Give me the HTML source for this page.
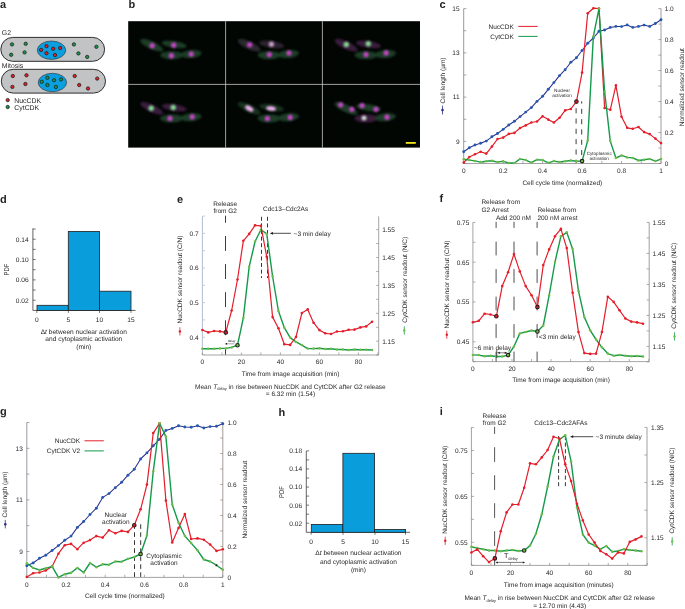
<!DOCTYPE html>
<html><head><meta charset="utf-8"><style>
html,body{margin:0;padding:0;background:#fff;width:685px;height:609px;overflow:hidden}
svg{display:block}
text{font-family:"Liberation Sans",sans-serif;fill:#231f20;text-rendering:geometricPrecision}
svg{will-change:transform}
</style></head><body>
<svg width="685" height="609" viewBox="0 0 685 609">
<text x="0" y="7.8" font-size="11" font-weight="bold">a</text>
<text x="1.8" y="34.57" font-size="6.9">G2</text>
<text x="1.8" y="67.67" font-size="6.9">Mitosis</text>
<rect x="0.8" y="37.4" width="103.8" height="23.9" rx="11.95" fill="#c1c3c5" stroke="#2e2e2e" stroke-width="1.0"/>
<ellipse cx="51.5" cy="50.2" rx="14.2" ry="9.2" fill="#0b9fe0" stroke="#2a2a2a" stroke-width="0.6"/>
<rect x="1.3" y="69.3" width="104.2" height="23.8" rx="11.90" fill="#c1c3c5" stroke="#2e2e2e" stroke-width="1.0"/>
<ellipse cx="52.4" cy="82.5" rx="14.2" ry="9.2" fill="#0b9fe0" stroke="#2a2a2a" stroke-width="0.6"/>
<circle cx="12" cy="44.4" r="1.68" fill="#17954a" stroke="#1e1e1e" stroke-width="0.75"/>
<circle cx="25.7" cy="43.8" r="1.68" fill="#17954a" stroke="#1e1e1e" stroke-width="0.75"/>
<circle cx="11.2" cy="54.8" r="1.68" fill="#17954a" stroke="#1e1e1e" stroke-width="0.75"/>
<circle cx="24.6" cy="52.4" r="1.68" fill="#17954a" stroke="#1e1e1e" stroke-width="0.75"/>
<circle cx="73.9" cy="44.4" r="1.68" fill="#17954a" stroke="#1e1e1e" stroke-width="0.75"/>
<circle cx="96.4" cy="46.8" r="1.68" fill="#17954a" stroke="#1e1e1e" stroke-width="0.75"/>
<circle cx="78.4" cy="53.4" r="1.68" fill="#17954a" stroke="#1e1e1e" stroke-width="0.75"/>
<circle cx="87.2" cy="56.9" r="1.68" fill="#17954a" stroke="#1e1e1e" stroke-width="0.75"/>
<circle cx="46.5" cy="46.1" r="1.68" fill="#e31e26" stroke="#1e1e1e" stroke-width="0.75"/>
<circle cx="41.1" cy="49.9" r="1.68" fill="#e31e26" stroke="#1e1e1e" stroke-width="0.75"/>
<circle cx="53.2" cy="48.7" r="1.68" fill="#e31e26" stroke="#1e1e1e" stroke-width="0.75"/>
<circle cx="60.2" cy="48" r="1.68" fill="#e31e26" stroke="#1e1e1e" stroke-width="0.75"/>
<circle cx="46.5" cy="53.2" r="1.68" fill="#e31e26" stroke="#1e1e1e" stroke-width="0.75"/>
<circle cx="55" cy="55.1" r="1.68" fill="#e31e26" stroke="#1e1e1e" stroke-width="0.75"/>
<circle cx="12.8" cy="76" r="1.68" fill="#e31e26" stroke="#1e1e1e" stroke-width="0.75"/>
<circle cx="26.5" cy="75.3" r="1.68" fill="#e31e26" stroke="#1e1e1e" stroke-width="0.75"/>
<circle cx="12.4" cy="86.9" r="1.68" fill="#e31e26" stroke="#1e1e1e" stroke-width="0.75"/>
<circle cx="25.4" cy="84" r="1.68" fill="#e31e26" stroke="#1e1e1e" stroke-width="0.75"/>
<circle cx="74.7" cy="76" r="1.68" fill="#e31e26" stroke="#1e1e1e" stroke-width="0.75"/>
<circle cx="97.2" cy="78.6" r="1.68" fill="#e31e26" stroke="#1e1e1e" stroke-width="0.75"/>
<circle cx="79.2" cy="85" r="1.68" fill="#e31e26" stroke="#1e1e1e" stroke-width="0.75"/>
<circle cx="88" cy="88.5" r="1.68" fill="#e31e26" stroke="#1e1e1e" stroke-width="0.75"/>
<circle cx="47.4" cy="77.8" r="1.68" fill="#17954a" stroke="#1e1e1e" stroke-width="0.75"/>
<circle cx="41.8" cy="81.8" r="1.68" fill="#17954a" stroke="#1e1e1e" stroke-width="0.75"/>
<circle cx="54.1" cy="80.2" r="1.68" fill="#17954a" stroke="#1e1e1e" stroke-width="0.75"/>
<circle cx="61" cy="79.4" r="1.68" fill="#17954a" stroke="#1e1e1e" stroke-width="0.75"/>
<circle cx="47.4" cy="85" r="1.68" fill="#17954a" stroke="#1e1e1e" stroke-width="0.75"/>
<circle cx="55.9" cy="86.9" r="1.68" fill="#17954a" stroke="#1e1e1e" stroke-width="0.75"/>
<circle cx="7.7" cy="100.1" r="1.68" fill="#e31e26" stroke="#1e1e1e" stroke-width="0.75"/>
<circle cx="7.7" cy="107" r="1.68" fill="#17954a" stroke="#1e1e1e" stroke-width="0.75"/>
<text x="14.3" y="102.77" font-size="6.9">NucCDK</text>
<text x="14.3" y="109.67" font-size="6.9">CytCDK</text>
<text x="128.5" y="7.9" font-size="11" font-weight="bold">b</text>
<rect x="128.2" y="21.2" width="291.8" height="126.4" fill="#020603"/>
<defs><filter id="bl1" x="-50%" y="-50%" width="200%" height="200%"><feGaussianBlur stdDeviation="1.3"/></filter><filter id="bl2" x="-50%" y="-50%" width="200%" height="200%"><feGaussianBlur stdDeviation="0.95"/></filter><clipPath id="bclip"><rect x="128.2" y="21.2" width="291.8" height="126.4"/></clipPath></defs>
<g clip-path="url(#bclip)">
<g transform="translate(128.2,21.2)">
<g filter="url(#bl1)">
<ellipse cx="23.5" cy="24.0" rx="12.5" ry="3.8" transform="rotate(25 23.5 24.0)" fill="#1c3d26"/>
<ellipse cx="46.0" cy="23.2" rx="12.5" ry="3.5" transform="rotate(8 46.0 23.2)" fill="#1c3d26"/>
<ellipse cx="43.5" cy="34.0" rx="11.5" ry="4.0" transform="rotate(0 43.5 34.0)" fill="#1c3d26"/>
<ellipse cx="63.0" cy="32.8" rx="10.5" ry="4.0" transform="rotate(-5 63.0 32.8)" fill="#1c3d26"/>
</g><g filter="url(#bl2)">
<ellipse cx="24" cy="24.5" rx="2.6" ry="2.6" transform="rotate(0 24 24.5)" fill="#c846c8"/>
<ellipse cx="45.5" cy="24" rx="2.6" ry="2.6" transform="rotate(0 45.5 24)" fill="#c846c8"/>
<ellipse cx="43.2" cy="34.5" rx="2.6" ry="2.6" transform="rotate(0 43.2 34.5)" fill="#c846c8"/>
<ellipse cx="63" cy="32.9" rx="2.6" ry="2.6" transform="rotate(0 63 32.9)" fill="#c846c8"/>
</g></g>
<g transform="translate(225.6,21.2)">
<g filter="url(#bl1)">
<ellipse cx="23.5" cy="24.0" rx="12.5" ry="3.8" transform="rotate(25 23.5 24.0)" fill="#2a2a2f"/>
<ellipse cx="46.0" cy="23.2" rx="12.5" ry="3.5" transform="rotate(8 46.0 23.2)" fill="#2e2430"/>
<ellipse cx="43.5" cy="34.0" rx="11.5" ry="4.0" transform="rotate(0 43.5 34.0)" fill="#1c3d26"/>
<ellipse cx="63.0" cy="32.8" rx="10.5" ry="4.0" transform="rotate(-5 63.0 32.8)" fill="#1c3d26"/>
</g><g filter="url(#bl2)">
<ellipse cx="24.1" cy="23.6" rx="2.6" ry="2.6" transform="rotate(0 24.1 23.6)" fill="#c846c8"/>
<ellipse cx="45.8" cy="23.0" rx="2.6" ry="2.6" transform="rotate(0 45.8 23.0)" fill="#c7a0c8"/>
<ellipse cx="43.7" cy="33.4" rx="2.6" ry="2.6" transform="rotate(0 43.7 33.4)" fill="#c846c8"/>
<ellipse cx="63.4" cy="31.8" rx="2.6" ry="2.6" transform="rotate(0 63.4 31.8)" fill="#c846c8"/>
</g></g>
<g transform="translate(322.5,21.2)">
<g filter="url(#bl1)">
<ellipse cx="23.5" cy="24.0" rx="12.5" ry="3.8" transform="rotate(25 23.5 24.0)" fill="#3a1a3e"/>
<ellipse cx="46.0" cy="23.2" rx="12.5" ry="3.5" transform="rotate(8 46.0 23.2)" fill="#3a1a3e"/>
<ellipse cx="43.5" cy="34.0" rx="11.5" ry="4.0" transform="rotate(0 43.5 34.0)" fill="#1c3d26"/>
<ellipse cx="63.0" cy="32.8" rx="10.5" ry="4.0" transform="rotate(-5 63.0 32.8)" fill="#1c3d26"/>
</g><g filter="url(#bl2)">
<ellipse cx="23.8" cy="23.3" rx="2.7" ry="2.7" transform="rotate(0 23.8 23.3)" fill="#82d890"/>
<ellipse cx="45.8" cy="22.5" rx="2.7" ry="2.7" transform="rotate(0 45.8 22.5)" fill="#82d890"/>
<ellipse cx="43.5" cy="33.4" rx="2.6" ry="2.6" transform="rotate(0 43.5 33.4)" fill="#c846c8"/>
<ellipse cx="63.6" cy="31.7" rx="2.6" ry="2.6" transform="rotate(0 63.6 31.7)" fill="#c846c8"/>
</g></g>
<g transform="translate(128.2,84.4)">
<g filter="url(#bl1)">
<ellipse cx="23.5" cy="24.0" rx="12.5" ry="3.8" transform="rotate(25 23.5 24.0)" fill="#3a1a3e"/>
<ellipse cx="46.0" cy="23.2" rx="12.5" ry="3.5" transform="rotate(8 46.0 23.2)" fill="#3a1a3e"/>
<ellipse cx="43.5" cy="34.0" rx="11.5" ry="4.0" transform="rotate(0 43.5 34.0)" fill="#1c3d26"/>
<ellipse cx="63.0" cy="32.8" rx="10.5" ry="4.0" transform="rotate(-5 63.0 32.8)" fill="#1c3d26"/>
</g><g filter="url(#bl2)">
<ellipse cx="23" cy="23.9" rx="2.7" ry="2.7" transform="rotate(0 23 23.9)" fill="#82d890"/>
<ellipse cx="45" cy="23.1" rx="2.7" ry="2.7" transform="rotate(0 45 23.1)" fill="#82d890"/>
<ellipse cx="41.8" cy="34" rx="2.6" ry="2.6" transform="rotate(0 41.8 34)" fill="#c846c8"/>
<ellipse cx="64" cy="32.4" rx="2.6" ry="2.6" transform="rotate(0 64 32.4)" fill="#c846c8"/>
</g></g>
<g transform="translate(225.6,84.4)">
<g filter="url(#bl1)">
<ellipse cx="23.5" cy="24.0" rx="12.5" ry="3.8" transform="rotate(25 23.5 24.0)" fill="#16301e"/>
<ellipse cx="46.0" cy="23.2" rx="12.5" ry="3.5" transform="rotate(8 46.0 23.2)" fill="#16301e"/>
<ellipse cx="43.5" cy="34.0" rx="11.5" ry="4.0" transform="rotate(0 43.5 34.0)" fill="#1c3d26"/>
<ellipse cx="63.0" cy="32.8" rx="10.5" ry="4.0" transform="rotate(-5 63.0 32.8)" fill="#1c3d26"/>
</g><g filter="url(#bl2)">
<ellipse cx="23.7" cy="24.1" rx="4.6" ry="2.3" transform="rotate(30 23.7 24.1)" fill="#f0b0f0"/>
<ellipse cx="45.4" cy="24.1" rx="5.0" ry="2.2" transform="rotate(8 45.4 24.1)" fill="#f0b0f0"/>
<ellipse cx="41.8" cy="34.1" rx="2.6" ry="2.6" transform="rotate(0 41.8 34.1)" fill="#c846c8"/>
<ellipse cx="64.6" cy="33" rx="2.6" ry="2.6" transform="rotate(0 64.6 33)" fill="#c846c8"/>
</g></g>
<g transform="translate(322.5,84.4)">
<g filter="url(#bl1)">
<ellipse cx="23.5" cy="24.0" rx="12.5" ry="3.8" transform="rotate(25 23.5 24.0)" fill="#1c3d26"/>
<ellipse cx="46.0" cy="23.2" rx="12.5" ry="3.5" transform="rotate(8 46.0 23.2)" fill="#1c3d26"/>
<ellipse cx="43.5" cy="34.0" rx="11.5" ry="4.0" transform="rotate(0 43.5 34.0)" fill="#3a1a3e"/>
<ellipse cx="63.0" cy="32.8" rx="10.5" ry="4.0" transform="rotate(-5 63.0 32.8)" fill="#1c3d26"/>
</g><g filter="url(#bl2)">
<ellipse cx="18.2" cy="20.4" rx="2.6" ry="2.6" transform="rotate(0 18.2 20.4)" fill="#c846c8"/>
<ellipse cx="29.4" cy="24.9" rx="2.6" ry="2.6" transform="rotate(0 29.4 24.9)" fill="#c846c8"/>
<ellipse cx="39.5" cy="21.2" rx="2.6" ry="2.6" transform="rotate(0 39.5 21.2)" fill="#c846c8"/>
<ellipse cx="53.5" cy="24.9" rx="2.6" ry="2.6" transform="rotate(0 53.5 24.9)" fill="#c846c8"/>
<ellipse cx="41.5" cy="33.7" rx="2.5" ry="2.5" transform="rotate(0 41.5 33.7)" fill="#d0dcd0"/>
<ellipse cx="64.5" cy="32.8" rx="2.6" ry="2.6" transform="rotate(0 64.5 32.8)" fill="#c846c8"/>
</g></g>
</g>
<line x1="225.6" y1="21.2" x2="225.6" y2="147.6" stroke="#c8c8c8" stroke-width="0.8"/>
<line x1="322.4" y1="21.2" x2="322.4" y2="147.6" stroke="#c8c8c8" stroke-width="0.8"/>
<line x1="128.2" y1="84.4" x2="420" y2="84.4" stroke="#c8c8c8" stroke-width="0.8"/>
<rect x="405.8" y="142" width="10" height="1.8" fill="#f5e51b"/>
<text x="439.5" y="7.8" font-size="11" font-weight="bold">c</text>
<line x1="463.7" y1="8.6" x2="463.7" y2="163.5" stroke="#7a7f86" stroke-width="0.8"/>
<line x1="661" y1="8.6" x2="661" y2="163.5" stroke="#8c8480" stroke-width="0.8"/>
<line x1="463.7" y1="163.5" x2="661" y2="163.5" stroke="#8c8c8c" stroke-width="0.8"/>
<line x1="463.7" y1="163.5" x2="466.3" y2="163.5" stroke="#7a7f86" stroke-width="0.7"/>
<line x1="463.7" y1="141.37" x2="466.3" y2="141.37" stroke="#7a7f86" stroke-width="0.7"/>
<text x="459.6" y="143.7" font-size="6.5" text-anchor="end">9</text>
<line x1="463.7" y1="119.24" x2="466.3" y2="119.24" stroke="#7a7f86" stroke-width="0.7"/>
<line x1="463.7" y1="97.11" x2="466.3" y2="97.11" stroke="#7a7f86" stroke-width="0.7"/>
<text x="459.6" y="99.44" font-size="6.5" text-anchor="end">11</text>
<line x1="463.7" y1="74.99" x2="466.3" y2="74.99" stroke="#7a7f86" stroke-width="0.7"/>
<line x1="463.7" y1="52.86" x2="466.3" y2="52.86" stroke="#7a7f86" stroke-width="0.7"/>
<text x="459.6" y="55.18" font-size="6.5" text-anchor="end">13</text>
<line x1="463.7" y1="30.73" x2="466.3" y2="30.73" stroke="#7a7f86" stroke-width="0.7"/>
<line x1="463.7" y1="8.6" x2="466.3" y2="8.6" stroke="#7a7f86" stroke-width="0.7"/>
<text x="459.6" y="10.93" font-size="6.5" text-anchor="end">15</text>
<line x1="658.4" y1="163.5" x2="661" y2="163.5" stroke="#8c8480" stroke-width="0.7"/>
<text x="664.7" y="165.83" font-size="6.5">0</text>
<line x1="658.4" y1="148.01" x2="661" y2="148.01" stroke="#8c8480" stroke-width="0.7"/>
<line x1="658.4" y1="132.52" x2="661" y2="132.52" stroke="#8c8480" stroke-width="0.7"/>
<text x="664.7" y="134.85" font-size="6.5">0.2</text>
<line x1="658.4" y1="117.03" x2="661" y2="117.03" stroke="#8c8480" stroke-width="0.7"/>
<line x1="658.4" y1="101.54" x2="661" y2="101.54" stroke="#8c8480" stroke-width="0.7"/>
<text x="664.7" y="103.87" font-size="6.5">0.4</text>
<line x1="658.4" y1="86.05" x2="661" y2="86.05" stroke="#8c8480" stroke-width="0.7"/>
<line x1="658.4" y1="70.56" x2="661" y2="70.56" stroke="#8c8480" stroke-width="0.7"/>
<text x="664.7" y="72.89" font-size="6.5">0.6</text>
<line x1="658.4" y1="55.07" x2="661" y2="55.07" stroke="#8c8480" stroke-width="0.7"/>
<line x1="658.4" y1="39.58" x2="661" y2="39.58" stroke="#8c8480" stroke-width="0.7"/>
<text x="664.7" y="41.91" font-size="6.5">0.8</text>
<line x1="658.4" y1="24.09" x2="661" y2="24.09" stroke="#8c8480" stroke-width="0.7"/>
<line x1="658.4" y1="8.6" x2="661" y2="8.6" stroke="#8c8480" stroke-width="0.7"/>
<text x="664.7" y="10.93" font-size="6.5">1.0</text>
<line x1="463.7" y1="163.5" x2="463.7" y2="160.9" stroke="#8c8c8c" stroke-width="0.7"/>
<text x="463.7" y="172.83" font-size="6.5" text-anchor="middle">0</text>
<line x1="483.43" y1="163.5" x2="483.43" y2="160.9" stroke="#8c8c8c" stroke-width="0.7"/>
<line x1="503.16" y1="163.5" x2="503.16" y2="160.9" stroke="#8c8c8c" stroke-width="0.7"/>
<text x="503.16" y="172.83" font-size="6.5" text-anchor="middle">0.2</text>
<line x1="522.89" y1="163.5" x2="522.89" y2="160.9" stroke="#8c8c8c" stroke-width="0.7"/>
<line x1="542.62" y1="163.5" x2="542.62" y2="160.9" stroke="#8c8c8c" stroke-width="0.7"/>
<text x="542.62" y="172.83" font-size="6.5" text-anchor="middle">0.4</text>
<line x1="562.35" y1="163.5" x2="562.35" y2="160.9" stroke="#8c8c8c" stroke-width="0.7"/>
<line x1="582.08" y1="163.5" x2="582.08" y2="160.9" stroke="#8c8c8c" stroke-width="0.7"/>
<text x="582.08" y="172.83" font-size="6.5" text-anchor="middle">0.6</text>
<line x1="601.81" y1="163.5" x2="601.81" y2="160.9" stroke="#8c8c8c" stroke-width="0.7"/>
<line x1="621.54" y1="163.5" x2="621.54" y2="160.9" stroke="#8c8c8c" stroke-width="0.7"/>
<text x="621.54" y="172.83" font-size="6.5" text-anchor="middle">0.8</text>
<line x1="641.27" y1="163.5" x2="641.27" y2="160.9" stroke="#8c8c8c" stroke-width="0.7"/>
<line x1="661" y1="163.5" x2="661" y2="160.9" stroke="#8c8c8c" stroke-width="0.7"/>
<text x="661" y="172.83" font-size="6.5" text-anchor="middle">1</text>
<text x="562.3" y="184.53" font-size="6.5" text-anchor="middle">Cell cycle time (normalized)</text>
<text transform="translate(442.3,80.5) rotate(-90)" x="0" y="2.33" font-size="6.5" text-anchor="middle">Cell length (µm)</text>
<line x1="442.5" y1="105.7" x2="442.5" y2="114.5" stroke="#2b3188" stroke-width="0.8"/>
<circle cx="442.5" cy="110.1" r="1.3" fill="#2b3188"/>
<text transform="translate(681.7,87.2) rotate(-90)" x="0" y="2.33" font-size="6.5" text-anchor="middle">Normalized sensor readout</text>
<text x="513.8" y="28.83" font-size="6.5" text-anchor="end">NucCDK</text>
<text x="513.8" y="38.73" font-size="6.5" text-anchor="end">CytCDK</text>
<line x1="518.3" y1="26.4" x2="537.7" y2="26.4" stroke="#e41e2b" stroke-width="1.0"/>
<line x1="518.3" y1="36.4" x2="537.7" y2="36.4" stroke="#159a4b" stroke-width="1.0"/>
<line x1="576.1" y1="103.9" x2="576.1" y2="163" stroke="#333" stroke-width="0.95" stroke-dasharray="5.1,5.2" stroke-dashoffset="6.0"/>
<line x1="581.7" y1="101.3" x2="581.7" y2="163" stroke="#333" stroke-width="0.95" stroke-dasharray="5.1,5.2" stroke-dashoffset="2.8"/>
<polyline points="463.7,151.7 469.34,147.8 474.97,145 480.61,143.3 486.25,141.1 491.89,136.8 497.52,133.5 503.16,129.4 508.8,125 514.43,121.3 520.07,116.6 525.71,112.1 531.35,107.6 536.98,101.4 542.62,96.3 548.26,89.3 553.89,82.6 559.53,75.6 565.17,69.7 570.81,62.3 576.44,57.8 582.08,50.5 587.72,43.3 593.35,38 598.99,31.3 604.63,30 610.27,27.4 615.9,26.4 621.54,26.6 627.18,24.9 632.81,27.4 638.45,26.4 644.09,25.1 649.73,26.4 655.36,23.5 661,19.8" fill="none" stroke="#2b3188" stroke-width="1.05" stroke-linejoin="round"/>
<circle cx="463.7" cy="151.7" r="1.45" fill="#2358b4"/>
<circle cx="469.34" cy="147.8" r="1.45" fill="#2358b4"/>
<circle cx="474.97" cy="145" r="1.45" fill="#2358b4"/>
<circle cx="480.61" cy="143.3" r="1.45" fill="#2358b4"/>
<circle cx="486.25" cy="141.1" r="1.45" fill="#2358b4"/>
<circle cx="491.89" cy="136.8" r="1.45" fill="#2358b4"/>
<circle cx="497.52" cy="133.5" r="1.45" fill="#2358b4"/>
<circle cx="503.16" cy="129.4" r="1.45" fill="#2358b4"/>
<circle cx="508.8" cy="125" r="1.45" fill="#2358b4"/>
<circle cx="514.43" cy="121.3" r="1.45" fill="#2358b4"/>
<circle cx="520.07" cy="116.6" r="1.45" fill="#2358b4"/>
<circle cx="525.71" cy="112.1" r="1.45" fill="#2358b4"/>
<circle cx="531.35" cy="107.6" r="1.45" fill="#2358b4"/>
<circle cx="536.98" cy="101.4" r="1.45" fill="#2358b4"/>
<circle cx="542.62" cy="96.3" r="1.45" fill="#2358b4"/>
<circle cx="548.26" cy="89.3" r="1.45" fill="#2358b4"/>
<circle cx="553.89" cy="82.6" r="1.45" fill="#2358b4"/>
<circle cx="559.53" cy="75.6" r="1.45" fill="#2358b4"/>
<circle cx="565.17" cy="69.7" r="1.45" fill="#2358b4"/>
<circle cx="570.81" cy="62.3" r="1.45" fill="#2358b4"/>
<circle cx="576.44" cy="57.8" r="1.45" fill="#2358b4"/>
<circle cx="582.08" cy="50.5" r="1.45" fill="#2358b4"/>
<circle cx="587.72" cy="43.3" r="1.45" fill="#2358b4"/>
<circle cx="593.35" cy="38" r="1.45" fill="#2358b4"/>
<circle cx="598.99" cy="31.3" r="1.45" fill="#2358b4"/>
<circle cx="604.63" cy="30" r="1.45" fill="#2358b4"/>
<circle cx="610.27" cy="27.4" r="1.45" fill="#2358b4"/>
<circle cx="615.9" cy="26.4" r="1.45" fill="#2358b4"/>
<circle cx="621.54" cy="26.6" r="1.45" fill="#2358b4"/>
<circle cx="627.18" cy="24.9" r="1.45" fill="#2358b4"/>
<circle cx="632.81" cy="27.4" r="1.45" fill="#2358b4"/>
<circle cx="638.45" cy="26.4" r="1.45" fill="#2358b4"/>
<circle cx="644.09" cy="25.1" r="1.45" fill="#2358b4"/>
<circle cx="649.73" cy="26.4" r="1.45" fill="#2358b4"/>
<circle cx="655.36" cy="23.5" r="1.45" fill="#2358b4"/>
<circle cx="661" cy="19.8" r="1.45" fill="#2358b4"/>
<polyline points="463.7,162.6 469.34,157 474.97,154.2 480.61,151.7 486.25,153.6 491.89,146.6 497.52,139 503.16,137.6 508.8,133.9 514.43,132.9 520.07,128 525.71,125.4 531.35,122.5 536.98,121.5 542.62,116.2 548.26,119.6 553.89,122.5 559.53,117.8 565.17,110.4 570.81,109 576.44,101.6 582.08,72.6 587.72,13.3 593.35,8.2 598.99,8.6 604.63,108 610.27,109.8 615.9,85.4 621.54,116.8 627.18,127.8 632.81,128.8 638.45,127 644.09,132.1 649.73,134.1 655.36,138.6 661,143.1" fill="none" stroke="#e41e2b" stroke-width="1.2" stroke-linejoin="round"/>
<circle cx="463.7" cy="162.6" r="1.3" fill="#e41e2b"/>
<circle cx="469.34" cy="157" r="1.3" fill="#e41e2b"/>
<circle cx="474.97" cy="154.2" r="1.3" fill="#e41e2b"/>
<circle cx="480.61" cy="151.7" r="1.3" fill="#e41e2b"/>
<circle cx="486.25" cy="153.6" r="1.3" fill="#e41e2b"/>
<circle cx="491.89" cy="146.6" r="1.3" fill="#e41e2b"/>
<circle cx="497.52" cy="139" r="1.3" fill="#e41e2b"/>
<circle cx="503.16" cy="137.6" r="1.3" fill="#e41e2b"/>
<circle cx="508.8" cy="133.9" r="1.3" fill="#e41e2b"/>
<circle cx="514.43" cy="132.9" r="1.3" fill="#e41e2b"/>
<circle cx="520.07" cy="128" r="1.3" fill="#e41e2b"/>
<circle cx="525.71" cy="125.4" r="1.3" fill="#e41e2b"/>
<circle cx="531.35" cy="122.5" r="1.3" fill="#e41e2b"/>
<circle cx="536.98" cy="121.5" r="1.3" fill="#e41e2b"/>
<circle cx="542.62" cy="116.2" r="1.3" fill="#e41e2b"/>
<circle cx="548.26" cy="119.6" r="1.3" fill="#e41e2b"/>
<circle cx="553.89" cy="122.5" r="1.3" fill="#e41e2b"/>
<circle cx="559.53" cy="117.8" r="1.3" fill="#e41e2b"/>
<circle cx="565.17" cy="110.4" r="1.3" fill="#e41e2b"/>
<circle cx="570.81" cy="109" r="1.3" fill="#e41e2b"/>
<circle cx="576.44" cy="101.6" r="1.3" fill="#e41e2b"/>
<circle cx="582.08" cy="72.6" r="1.3" fill="#e41e2b"/>
<circle cx="587.72" cy="13.3" r="1.3" fill="#e41e2b"/>
<circle cx="593.35" cy="8.2" r="1.3" fill="#e41e2b"/>
<circle cx="598.99" cy="8.6" r="1.3" fill="#e41e2b"/>
<circle cx="604.63" cy="108" r="1.3" fill="#e41e2b"/>
<circle cx="610.27" cy="109.8" r="1.3" fill="#e41e2b"/>
<circle cx="615.9" cy="85.4" r="1.3" fill="#e41e2b"/>
<circle cx="621.54" cy="116.8" r="1.3" fill="#e41e2b"/>
<circle cx="627.18" cy="127.8" r="1.3" fill="#e41e2b"/>
<circle cx="632.81" cy="128.8" r="1.3" fill="#e41e2b"/>
<circle cx="638.45" cy="127" r="1.3" fill="#e41e2b"/>
<circle cx="644.09" cy="132.1" r="1.3" fill="#e41e2b"/>
<circle cx="649.73" cy="134.1" r="1.3" fill="#e41e2b"/>
<circle cx="655.36" cy="138.6" r="1.3" fill="#e41e2b"/>
<circle cx="661" cy="143.1" r="1.3" fill="#e41e2b"/>
<polyline points="463.7,159.3 469.34,160.1 474.97,160.9 480.61,162.1 486.25,161.3 491.89,160.7 497.52,162.1 503.16,161.3 508.8,163 514.43,163 520.07,158.9 525.71,160.1 531.35,162.6 536.98,159.7 542.62,160.1 548.26,162.8 553.89,161.1 559.53,162 565.17,161.3 570.81,160.5 576.44,161.3 582.08,161.1 587.72,140.5 593.35,36.4 598.99,8.6 604.63,91.8 610.27,141.1 615.9,158 621.54,155.4 627.18,157.4 632.81,157.9 638.45,160.5 644.09,159.7 649.73,158.9 655.36,161.1 661,159.1" fill="none" stroke="#159a4b" stroke-width="1.4" stroke-linejoin="round"/>
<circle cx="463.7" cy="159.3" r="1.25" fill="#72bb45"/>
<circle cx="469.34" cy="160.1" r="1.25" fill="#72bb45"/>
<circle cx="474.97" cy="160.9" r="1.25" fill="#72bb45"/>
<circle cx="480.61" cy="162.1" r="1.25" fill="#72bb45"/>
<circle cx="486.25" cy="161.3" r="1.25" fill="#72bb45"/>
<circle cx="491.89" cy="160.7" r="1.25" fill="#72bb45"/>
<circle cx="497.52" cy="162.1" r="1.25" fill="#72bb45"/>
<circle cx="503.16" cy="161.3" r="1.25" fill="#72bb45"/>
<circle cx="508.8" cy="163" r="1.25" fill="#72bb45"/>
<circle cx="514.43" cy="163" r="1.25" fill="#72bb45"/>
<circle cx="520.07" cy="158.9" r="1.25" fill="#72bb45"/>
<circle cx="525.71" cy="160.1" r="1.25" fill="#72bb45"/>
<circle cx="531.35" cy="162.6" r="1.25" fill="#72bb45"/>
<circle cx="536.98" cy="159.7" r="1.25" fill="#72bb45"/>
<circle cx="542.62" cy="160.1" r="1.25" fill="#72bb45"/>
<circle cx="548.26" cy="162.8" r="1.25" fill="#72bb45"/>
<circle cx="553.89" cy="161.1" r="1.25" fill="#72bb45"/>
<circle cx="559.53" cy="162" r="1.25" fill="#72bb45"/>
<circle cx="565.17" cy="161.3" r="1.25" fill="#72bb45"/>
<circle cx="570.81" cy="160.5" r="1.25" fill="#72bb45"/>
<circle cx="576.44" cy="161.3" r="1.25" fill="#72bb45"/>
<circle cx="582.08" cy="161.1" r="1.25" fill="#72bb45"/>
<circle cx="587.72" cy="140.5" r="1.25" fill="#72bb45"/>
<circle cx="593.35" cy="36.4" r="1.25" fill="#72bb45"/>
<circle cx="598.99" cy="8.6" r="1.25" fill="#72bb45"/>
<circle cx="604.63" cy="91.8" r="1.25" fill="#72bb45"/>
<circle cx="610.27" cy="141.1" r="1.25" fill="#72bb45"/>
<circle cx="615.9" cy="158" r="1.25" fill="#72bb45"/>
<circle cx="621.54" cy="155.4" r="1.25" fill="#72bb45"/>
<circle cx="627.18" cy="157.4" r="1.25" fill="#72bb45"/>
<circle cx="632.81" cy="157.9" r="1.25" fill="#72bb45"/>
<circle cx="638.45" cy="160.5" r="1.25" fill="#72bb45"/>
<circle cx="644.09" cy="159.7" r="1.25" fill="#72bb45"/>
<circle cx="649.73" cy="158.9" r="1.25" fill="#72bb45"/>
<circle cx="655.36" cy="161.1" r="1.25" fill="#72bb45"/>
<circle cx="661" cy="159.1" r="1.25" fill="#72bb45"/>
<circle cx="576.44" cy="101.6" r="1.75" fill="#e41e2b" stroke="#231f20" stroke-width="1.1"/>
<circle cx="582.08" cy="161.1" r="1.75" fill="#72bb45" stroke="#231f20" stroke-width="1.1"/>
<text x="562" y="91.55" font-size="4.6" text-anchor="middle">Nuclear</text>
<text x="562" y="96.85" font-size="4.6" text-anchor="middle">activation</text>
<text x="599.2" y="155.05" font-size="4.6" text-anchor="middle">Cytoplasmic</text>
<text x="599.2" y="159.85" font-size="4.6" text-anchor="middle">activation</text>
<text x="0" y="202.8" font-size="11" font-weight="bold">d</text>
<line x1="32.9" y1="228.4" x2="32.9" y2="310.4" stroke="#231f20" stroke-width="0.7"/>
<line x1="32.9" y1="310.4" x2="135.5" y2="310.4" stroke="#231f20" stroke-width="0.7"/>
<rect x="37" y="305.3" width="31.3" height="5.1" fill="#0a9ddb" stroke="#231f20" stroke-width="0.8"/>
<rect x="68.3" y="231.4" width="31.2" height="79" fill="#0a9ddb" stroke="#231f20" stroke-width="0.8"/>
<rect x="99.5" y="291.2" width="31.5" height="19.2" fill="#0a9ddb" stroke="#231f20" stroke-width="0.8"/>
<line x1="32.9" y1="300.23" x2="35.7" y2="300.23" stroke="#231f20" stroke-width="0.6"/>
<text x="28.7" y="302.59" font-size="6.6" text-anchor="end">0.02</text>
<line x1="32.9" y1="290.06" x2="35.7" y2="290.06" stroke="#231f20" stroke-width="0.6"/>
<line x1="32.9" y1="279.89" x2="35.7" y2="279.89" stroke="#231f20" stroke-width="0.6"/>
<text x="28.7" y="282.25" font-size="6.6" text-anchor="end">0.06</text>
<line x1="32.9" y1="269.72" x2="35.7" y2="269.72" stroke="#231f20" stroke-width="0.6"/>
<line x1="32.9" y1="259.55" x2="35.7" y2="259.55" stroke="#231f20" stroke-width="0.6"/>
<text x="28.7" y="261.91" font-size="6.6" text-anchor="end">0.10</text>
<line x1="32.9" y1="249.38" x2="35.7" y2="249.38" stroke="#231f20" stroke-width="0.6"/>
<line x1="32.9" y1="239.21" x2="35.7" y2="239.21" stroke="#231f20" stroke-width="0.6"/>
<text x="28.7" y="241.57" font-size="6.6" text-anchor="end">0.14</text>
<line x1="32.9" y1="229.04" x2="35.7" y2="229.04" stroke="#231f20" stroke-width="0.6"/>
<line x1="36.8" y1="310.4" x2="36.8" y2="312.9" stroke="#231f20" stroke-width="0.6"/>
<text x="36.8" y="321.86" font-size="6.6" text-anchor="middle">0</text>
<line x1="68.3" y1="310.4" x2="68.3" y2="312.9" stroke="#231f20" stroke-width="0.6"/>
<text x="68.3" y="321.86" font-size="6.6" text-anchor="middle">5</text>
<line x1="99.5" y1="310.4" x2="99.5" y2="312.9" stroke="#231f20" stroke-width="0.6"/>
<text x="99.5" y="321.86" font-size="6.6" text-anchor="middle">10</text>
<line x1="131" y1="310.4" x2="131" y2="312.9" stroke="#231f20" stroke-width="0.6"/>
<text x="131" y="321.86" font-size="6.6" text-anchor="middle">15</text>
<text x="83.8" y="333.86" font-size="6.6" text-anchor="middle">Δ<tspan font-style="italic">t</tspan> between nuclear activation</text>
<text x="83.8" y="341.26" font-size="6.6" text-anchor="middle">and cytoplasmic activation</text>
<text x="83.8" y="348.66" font-size="6.6" text-anchor="middle">(min)</text>
<text transform="translate(6.2,269.5) rotate(-90)" x="0" y="2.51" font-size="7" text-anchor="middle" textLength="11.8" lengthAdjust="spacingAndGlyphs">PDF</text>
<text x="278.5" y="415.5" font-size="11" font-weight="bold">h</text>
<line x1="306.3" y1="451" x2="306.3" y2="532.3" stroke="#231f20" stroke-width="0.7"/>
<line x1="306.3" y1="532.3" x2="410.1" y2="532.3" stroke="#231f20" stroke-width="0.7"/>
<rect x="311.3" y="524.4" width="31.6" height="7.9" fill="#0a9ddb" stroke="#231f20" stroke-width="0.8"/>
<rect x="342.9" y="453.3" width="31.7" height="79" fill="#0a9ddb" stroke="#231f20" stroke-width="0.8"/>
<rect x="374.6" y="529.4" width="31" height="2.9" fill="#0a9ddb" stroke="#231f20" stroke-width="0.8"/>
<line x1="306.3" y1="523.25" x2="309.1" y2="523.25" stroke="#231f20" stroke-width="0.6"/>
<text x="302.1" y="525.61" font-size="6.6" text-anchor="end">0.02</text>
<line x1="306.3" y1="514.2" x2="309.1" y2="514.2" stroke="#231f20" stroke-width="0.6"/>
<line x1="306.3" y1="505.15" x2="309.1" y2="505.15" stroke="#231f20" stroke-width="0.6"/>
<text x="302.1" y="507.51" font-size="6.6" text-anchor="end">0.06</text>
<line x1="306.3" y1="496.1" x2="309.1" y2="496.1" stroke="#231f20" stroke-width="0.6"/>
<line x1="306.3" y1="487.05" x2="309.1" y2="487.05" stroke="#231f20" stroke-width="0.6"/>
<text x="302.1" y="489.41" font-size="6.6" text-anchor="end">0.10</text>
<line x1="306.3" y1="478" x2="309.1" y2="478" stroke="#231f20" stroke-width="0.6"/>
<line x1="306.3" y1="468.95" x2="309.1" y2="468.95" stroke="#231f20" stroke-width="0.6"/>
<text x="302.1" y="471.31" font-size="6.6" text-anchor="end">0.14</text>
<line x1="306.3" y1="459.9" x2="309.1" y2="459.9" stroke="#231f20" stroke-width="0.6"/>
<line x1="306.3" y1="450.85" x2="309.1" y2="450.85" stroke="#231f20" stroke-width="0.6"/>
<text x="302.1" y="453.21" font-size="6.6" text-anchor="end">0.18</text>
<line x1="311.1" y1="532.3" x2="311.1" y2="534.8" stroke="#231f20" stroke-width="0.6"/>
<text x="311.1" y="543.86" font-size="6.6" text-anchor="middle">0</text>
<line x1="343" y1="532.3" x2="343" y2="534.8" stroke="#231f20" stroke-width="0.6"/>
<text x="343" y="543.86" font-size="6.6" text-anchor="middle">5</text>
<line x1="375" y1="532.3" x2="375" y2="534.8" stroke="#231f20" stroke-width="0.6"/>
<text x="375" y="543.86" font-size="6.6" text-anchor="middle">10</text>
<line x1="405.5" y1="532.3" x2="405.5" y2="534.8" stroke="#231f20" stroke-width="0.6"/>
<text x="405.5" y="543.86" font-size="6.6" text-anchor="middle">15</text>
<text x="358.4" y="555.46" font-size="6.6" text-anchor="middle">Δ<tspan font-style="italic">t</tspan> between nuclear activation</text>
<text x="358.4" y="563.56" font-size="6.6" text-anchor="middle">and cytoplasmic activation</text>
<text x="358.4" y="571.66" font-size="6.6" text-anchor="middle">(min)</text>
<text transform="translate(281.5,492) rotate(-90)" x="0" y="2.51" font-size="7" text-anchor="middle" textLength="11.8" lengthAdjust="spacingAndGlyphs">PDF</text>
<text x="177" y="202.9" font-size="11" font-weight="bold">e</text>
<line x1="202.4" y1="216.3" x2="202.4" y2="355" stroke="#a9b7c9" stroke-width="0.9"/>
<line x1="378.7" y1="216.3" x2="378.7" y2="355" stroke="#8e8e8e" stroke-width="0.8"/>
<line x1="202.4" y1="355" x2="378.7" y2="355" stroke="#8e8e8e" stroke-width="0.8"/>
<line x1="202.4" y1="354.5" x2="205" y2="354.5" stroke="#a9b7c9" stroke-width="0.7"/>
<line x1="202.4" y1="337.2" x2="205" y2="337.2" stroke="#a9b7c9" stroke-width="0.7"/>
<text x="198.6" y="339.53" font-size="6.5" text-anchor="end">0.4</text>
<line x1="202.4" y1="319.9" x2="205" y2="319.9" stroke="#a9b7c9" stroke-width="0.7"/>
<line x1="202.4" y1="302.6" x2="205" y2="302.6" stroke="#a9b7c9" stroke-width="0.7"/>
<text x="198.6" y="304.93" font-size="6.5" text-anchor="end">0.5</text>
<line x1="202.4" y1="285.3" x2="205" y2="285.3" stroke="#a9b7c9" stroke-width="0.7"/>
<line x1="202.4" y1="268" x2="205" y2="268" stroke="#a9b7c9" stroke-width="0.7"/>
<text x="198.6" y="270.33" font-size="6.5" text-anchor="end">0.6</text>
<line x1="202.4" y1="250.7" x2="205" y2="250.7" stroke="#a9b7c9" stroke-width="0.7"/>
<line x1="202.4" y1="233.4" x2="205" y2="233.4" stroke="#a9b7c9" stroke-width="0.7"/>
<text x="198.6" y="235.73" font-size="6.5" text-anchor="end">0.7</text>
<line x1="202.4" y1="216.1" x2="205" y2="216.1" stroke="#a9b7c9" stroke-width="0.7"/>
<line x1="376.1" y1="355.15" x2="378.7" y2="355.15" stroke="#8e8e8e" stroke-width="0.7"/>
<line x1="376.1" y1="341.2" x2="378.7" y2="341.2" stroke="#8e8e8e" stroke-width="0.7"/>
<text x="382.2" y="343.53" font-size="6.5">1.15</text>
<line x1="376.1" y1="327.25" x2="378.7" y2="327.25" stroke="#8e8e8e" stroke-width="0.7"/>
<line x1="376.1" y1="313.3" x2="378.7" y2="313.3" stroke="#8e8e8e" stroke-width="0.7"/>
<text x="382.2" y="315.63" font-size="6.5">1.25</text>
<line x1="376.1" y1="299.35" x2="378.7" y2="299.35" stroke="#8e8e8e" stroke-width="0.7"/>
<line x1="376.1" y1="285.4" x2="378.7" y2="285.4" stroke="#8e8e8e" stroke-width="0.7"/>
<text x="382.2" y="287.73" font-size="6.5">1.35</text>
<line x1="376.1" y1="271.45" x2="378.7" y2="271.45" stroke="#8e8e8e" stroke-width="0.7"/>
<line x1="376.1" y1="257.5" x2="378.7" y2="257.5" stroke="#8e8e8e" stroke-width="0.7"/>
<text x="382.2" y="259.83" font-size="6.5">1.45</text>
<line x1="376.1" y1="243.55" x2="378.7" y2="243.55" stroke="#8e8e8e" stroke-width="0.7"/>
<line x1="376.1" y1="229.6" x2="378.7" y2="229.6" stroke="#8e8e8e" stroke-width="0.7"/>
<text x="382.2" y="231.93" font-size="6.5">1.55</text>
<line x1="202.4" y1="355" x2="202.4" y2="352.4" stroke="#8e8e8e" stroke-width="0.7"/>
<text x="202.4" y="364.03" font-size="6.5" text-anchor="middle">0</text>
<line x1="221.9" y1="355" x2="221.9" y2="352.4" stroke="#8e8e8e" stroke-width="0.7"/>
<line x1="241.4" y1="355" x2="241.4" y2="352.4" stroke="#8e8e8e" stroke-width="0.7"/>
<text x="241.4" y="364.03" font-size="6.5" text-anchor="middle">20</text>
<line x1="260.9" y1="355" x2="260.9" y2="352.4" stroke="#8e8e8e" stroke-width="0.7"/>
<line x1="280.4" y1="355" x2="280.4" y2="352.4" stroke="#8e8e8e" stroke-width="0.7"/>
<text x="280.4" y="364.03" font-size="6.5" text-anchor="middle">40</text>
<line x1="299.9" y1="355" x2="299.9" y2="352.4" stroke="#8e8e8e" stroke-width="0.7"/>
<line x1="319.4" y1="355" x2="319.4" y2="352.4" stroke="#8e8e8e" stroke-width="0.7"/>
<text x="319.4" y="364.03" font-size="6.5" text-anchor="middle">60</text>
<line x1="338.9" y1="355" x2="338.9" y2="352.4" stroke="#8e8e8e" stroke-width="0.7"/>
<line x1="358.4" y1="355" x2="358.4" y2="352.4" stroke="#8e8e8e" stroke-width="0.7"/>
<text x="358.4" y="364.03" font-size="6.5" text-anchor="middle">80</text>
<line x1="377.9" y1="355" x2="377.9" y2="352.4" stroke="#8e8e8e" stroke-width="0.7"/>
<text x="290.5" y="375.73" font-size="6.5" text-anchor="middle">Time from image acquisition (min)</text>
<text x="290.4" y="388.63" font-size="6.5" text-anchor="middle">Mean <tspan font-style="italic">T</tspan><tspan font-size="4" dy="1.5">delay</tspan><tspan dy="-1.5"> in rise between NucCDK and CytCDK after G2 release</tspan></text>
<text x="290.5" y="396.33" font-size="6.5" text-anchor="middle">= 6.32 min (1.54)</text>
<text transform="translate(180,279.5) rotate(-90)" x="0" y="2.33" font-size="6.5" text-anchor="middle">NucCDK sensor readout (C/N)</text>
<line x1="179.9" y1="327.3" x2="179.9" y2="335.5" stroke="#e41e2b" stroke-width="0.8"/>
<circle cx="179.9" cy="331.4" r="1.2" fill="#e41e2b"/>
<text transform="translate(404.7,279.8) rotate(-90)" x="0" y="2.33" font-size="6.5" text-anchor="middle">CytCDK sensor readout (N/C)</text>
<line x1="404.3" y1="326.3" x2="404.3" y2="334.6" stroke="#159a4b" stroke-width="0.8"/>
<circle cx="404.3" cy="330.4" r="1.2" fill="#72bb45"/>
<text x="225.2" y="206.03" font-size="6.5" text-anchor="middle">Release</text>
<text x="225.2" y="213.33" font-size="6.5" text-anchor="middle">from G2</text>
<line x1="225.5" y1="215.7" x2="225.5" y2="354.6" stroke="#333" stroke-width="0.95" stroke-dasharray="14.9,13.2" stroke-dashoffset="7.8"/>
<text x="263" y="211.33" font-size="6.5">Cdc13–Cdc2As</text>
<line x1="261.5" y1="216.8" x2="261.5" y2="278" stroke="#231f20" stroke-width="0.9" stroke-dasharray="4,2.6"/>
<line x1="267.5" y1="216.8" x2="267.5" y2="278" stroke="#231f20" stroke-width="0.9" stroke-dasharray="4,2.6"/>
<line x1="272.5" y1="233.3" x2="290.8" y2="233.3" stroke="#231f20" stroke-width="0.8"/>
<path d="M269.8,233.3 L273,231.96 L273,234.64 Z" fill="#231f20"/>
<text x="293.6" y="236.13" font-size="6.5">~3 min delay</text>
<polyline points="202.4,348.7 208.25,348.7 214.1,348.7 219.95,348.4 225.8,348.4 231.65,347.4 237.5,345.2 243.35,317.9 249.2,266.7 255.05,241.5 260.9,229.7 266.75,233.9 272.6,276.5 278.45,311 284.3,327.7 290.15,337.6 296,341.9 301.85,345.1 307.7,348.6 313.55,348.6 319.4,348.3 325.25,349 331.1,348.8 336.95,349.5 342.8,349.5 348.65,350 354.5,349.5 360.35,349.8 366.2,349.8 372.05,350" fill="none" stroke="#159a4b" stroke-width="1.4" stroke-linejoin="round"/>
<circle cx="202.4" cy="348.7" r="1.25" fill="#72bb45"/>
<circle cx="208.25" cy="348.7" r="1.25" fill="#72bb45"/>
<circle cx="214.1" cy="348.7" r="1.25" fill="#72bb45"/>
<circle cx="219.95" cy="348.4" r="1.25" fill="#72bb45"/>
<circle cx="225.8" cy="348.4" r="1.25" fill="#72bb45"/>
<circle cx="231.65" cy="347.4" r="1.25" fill="#72bb45"/>
<circle cx="237.5" cy="345.2" r="1.25" fill="#72bb45"/>
<circle cx="243.35" cy="317.9" r="1.25" fill="#72bb45"/>
<circle cx="249.2" cy="266.7" r="1.25" fill="#72bb45"/>
<circle cx="255.05" cy="241.5" r="1.25" fill="#72bb45"/>
<circle cx="260.9" cy="229.7" r="1.25" fill="#72bb45"/>
<circle cx="266.75" cy="233.9" r="1.25" fill="#72bb45"/>
<circle cx="272.6" cy="276.5" r="1.25" fill="#72bb45"/>
<circle cx="278.45" cy="311" r="1.25" fill="#72bb45"/>
<circle cx="284.3" cy="327.7" r="1.25" fill="#72bb45"/>
<circle cx="290.15" cy="337.6" r="1.25" fill="#72bb45"/>
<circle cx="296" cy="341.9" r="1.25" fill="#72bb45"/>
<circle cx="301.85" cy="345.1" r="1.25" fill="#72bb45"/>
<circle cx="307.7" cy="348.6" r="1.25" fill="#72bb45"/>
<circle cx="313.55" cy="348.6" r="1.25" fill="#72bb45"/>
<circle cx="319.4" cy="348.3" r="1.25" fill="#72bb45"/>
<circle cx="325.25" cy="349" r="1.25" fill="#72bb45"/>
<circle cx="331.1" cy="348.8" r="1.25" fill="#72bb45"/>
<circle cx="336.95" cy="349.5" r="1.25" fill="#72bb45"/>
<circle cx="342.8" cy="349.5" r="1.25" fill="#72bb45"/>
<circle cx="348.65" cy="350" r="1.25" fill="#72bb45"/>
<circle cx="354.5" cy="349.5" r="1.25" fill="#72bb45"/>
<circle cx="360.35" cy="349.8" r="1.25" fill="#72bb45"/>
<circle cx="366.2" cy="349.8" r="1.25" fill="#72bb45"/>
<circle cx="372.05" cy="350" r="1.25" fill="#72bb45"/>
<polyline points="202.4,330 208.25,332.4 214.1,331 219.95,331.4 225.8,332.4 231.65,310.5 237.5,279.5 243.35,240.8 249.2,233.9 255.05,225.3 260.9,225.8 266.75,256.8 272.6,317.1 278.45,328.2 284.3,344.2 290.15,344.9 296,337 301.85,313.1 307.7,309.4 313.55,322.7 319.4,330.1 325.25,333.3 331.1,334 336.95,331.5 342.8,331.3 348.65,329.8 354.5,329.6 360.35,327.4 366.2,326.4 372.05,321.7" fill="none" stroke="#e41e2b" stroke-width="1.2" stroke-linejoin="round"/>
<circle cx="202.4" cy="330" r="1.3" fill="#e41e2b"/>
<circle cx="208.25" cy="332.4" r="1.3" fill="#e41e2b"/>
<circle cx="214.1" cy="331" r="1.3" fill="#e41e2b"/>
<circle cx="219.95" cy="331.4" r="1.3" fill="#e41e2b"/>
<circle cx="225.8" cy="332.4" r="1.3" fill="#e41e2b"/>
<circle cx="231.65" cy="310.5" r="1.3" fill="#e41e2b"/>
<circle cx="237.5" cy="279.5" r="1.3" fill="#e41e2b"/>
<circle cx="243.35" cy="240.8" r="1.3" fill="#e41e2b"/>
<circle cx="249.2" cy="233.9" r="1.3" fill="#e41e2b"/>
<circle cx="255.05" cy="225.3" r="1.3" fill="#e41e2b"/>
<circle cx="260.9" cy="225.8" r="1.3" fill="#e41e2b"/>
<circle cx="266.75" cy="256.8" r="1.3" fill="#e41e2b"/>
<circle cx="272.6" cy="317.1" r="1.3" fill="#e41e2b"/>
<circle cx="278.45" cy="328.2" r="1.3" fill="#e41e2b"/>
<circle cx="284.3" cy="344.2" r="1.3" fill="#e41e2b"/>
<circle cx="290.15" cy="344.9" r="1.3" fill="#e41e2b"/>
<circle cx="296" cy="337" r="1.3" fill="#e41e2b"/>
<circle cx="301.85" cy="313.1" r="1.3" fill="#e41e2b"/>
<circle cx="307.7" cy="309.4" r="1.3" fill="#e41e2b"/>
<circle cx="313.55" cy="322.7" r="1.3" fill="#e41e2b"/>
<circle cx="319.4" cy="330.1" r="1.3" fill="#e41e2b"/>
<circle cx="325.25" cy="333.3" r="1.3" fill="#e41e2b"/>
<circle cx="331.1" cy="334" r="1.3" fill="#e41e2b"/>
<circle cx="336.95" cy="331.5" r="1.3" fill="#e41e2b"/>
<circle cx="342.8" cy="331.3" r="1.3" fill="#e41e2b"/>
<circle cx="348.65" cy="329.8" r="1.3" fill="#e41e2b"/>
<circle cx="354.5" cy="329.6" r="1.3" fill="#e41e2b"/>
<circle cx="360.35" cy="327.4" r="1.3" fill="#e41e2b"/>
<circle cx="366.2" cy="326.4" r="1.3" fill="#e41e2b"/>
<circle cx="372.05" cy="321.7" r="1.3" fill="#e41e2b"/>
<circle cx="225.8" cy="332.4" r="1.75" fill="#e41e2b" stroke="#231f20" stroke-width="1.1"/>
<circle cx="237.5" cy="345.2" r="1.75" fill="#72bb45" stroke="#231f20" stroke-width="1.1"/>
<line x1="227.5" y1="343.8" x2="234.5" y2="343.8" stroke="#555" stroke-width="0.5"/>
<rect x="225.6" y="343.0" width="1.6" height="1.6" fill="#231f20"/>
<text x="231.5" y="341.55" font-size="3.2" text-anchor="middle" fill="#555">delay</text>
<text x="439.5" y="201.9" font-size="11" font-weight="bold">f</text>
<line x1="472.9" y1="222.4" x2="472.9" y2="361.6" stroke="#8e8e8e" stroke-width="0.8"/>
<line x1="649.2" y1="222.4" x2="649.2" y2="361.6" stroke="#8e8680" stroke-width="0.8"/>
<line x1="472.9" y1="361.6" x2="649.2" y2="361.6" stroke="#8e8e8e" stroke-width="0.8"/>
<line x1="472.9" y1="361.7" x2="475.5" y2="361.7" stroke="#8e8e8e" stroke-width="0.7"/>
<line x1="472.9" y1="341.8" x2="475.5" y2="341.8" stroke="#8e8e8e" stroke-width="0.7"/>
<text x="469.3" y="344.13" font-size="6.5" text-anchor="end">0.45</text>
<line x1="472.9" y1="321.9" x2="475.5" y2="321.9" stroke="#8e8e8e" stroke-width="0.7"/>
<line x1="472.9" y1="302" x2="475.5" y2="302" stroke="#8e8e8e" stroke-width="0.7"/>
<text x="469.3" y="304.33" font-size="6.5" text-anchor="end">0.55</text>
<line x1="472.9" y1="282.1" x2="475.5" y2="282.1" stroke="#8e8e8e" stroke-width="0.7"/>
<line x1="472.9" y1="262.2" x2="475.5" y2="262.2" stroke="#8e8e8e" stroke-width="0.7"/>
<text x="469.3" y="264.53" font-size="6.5" text-anchor="end">0.65</text>
<line x1="472.9" y1="242.3" x2="475.5" y2="242.3" stroke="#8e8e8e" stroke-width="0.7"/>
<line x1="472.9" y1="222.4" x2="475.5" y2="222.4" stroke="#8e8e8e" stroke-width="0.7"/>
<text x="469.3" y="224.73" font-size="6.5" text-anchor="end">0.75</text>
<line x1="646.6" y1="361.9" x2="649.2" y2="361.9" stroke="#8e8680" stroke-width="0.7"/>
<line x1="646.6" y1="346.4" x2="649.2" y2="346.4" stroke="#8e8680" stroke-width="0.7"/>
<text x="652.6" y="348.73" font-size="6.5">1.15</text>
<line x1="646.6" y1="330.9" x2="649.2" y2="330.9" stroke="#8e8680" stroke-width="0.7"/>
<line x1="646.6" y1="315.4" x2="649.2" y2="315.4" stroke="#8e8680" stroke-width="0.7"/>
<text x="652.6" y="317.73" font-size="6.5">1.25</text>
<line x1="646.6" y1="299.9" x2="649.2" y2="299.9" stroke="#8e8680" stroke-width="0.7"/>
<line x1="646.6" y1="284.4" x2="649.2" y2="284.4" stroke="#8e8680" stroke-width="0.7"/>
<text x="652.6" y="286.73" font-size="6.5">1.35</text>
<line x1="646.6" y1="268.9" x2="649.2" y2="268.9" stroke="#8e8680" stroke-width="0.7"/>
<line x1="646.6" y1="253.4" x2="649.2" y2="253.4" stroke="#8e8680" stroke-width="0.7"/>
<text x="652.6" y="255.73" font-size="6.5">1.45</text>
<line x1="646.6" y1="237.9" x2="649.2" y2="237.9" stroke="#8e8680" stroke-width="0.7"/>
<line x1="646.6" y1="222.4" x2="649.2" y2="222.4" stroke="#8e8680" stroke-width="0.7"/>
<text x="652.6" y="224.73" font-size="6.5">1.55</text>
<line x1="472.9" y1="361.6" x2="472.9" y2="359" stroke="#8e8e8e" stroke-width="0.7"/>
<text x="472.9" y="371.13" font-size="6.5" text-anchor="middle">0</text>
<line x1="492.45" y1="361.6" x2="492.45" y2="359" stroke="#8e8e8e" stroke-width="0.7"/>
<line x1="512" y1="361.6" x2="512" y2="359" stroke="#8e8e8e" stroke-width="0.7"/>
<text x="512" y="371.13" font-size="6.5" text-anchor="middle">20</text>
<line x1="531.55" y1="361.6" x2="531.55" y2="359" stroke="#8e8e8e" stroke-width="0.7"/>
<line x1="551.1" y1="361.6" x2="551.1" y2="359" stroke="#8e8e8e" stroke-width="0.7"/>
<text x="551.1" y="371.13" font-size="6.5" text-anchor="middle">40</text>
<line x1="570.65" y1="361.6" x2="570.65" y2="359" stroke="#8e8e8e" stroke-width="0.7"/>
<line x1="590.2" y1="361.6" x2="590.2" y2="359" stroke="#8e8e8e" stroke-width="0.7"/>
<text x="590.2" y="371.13" font-size="6.5" text-anchor="middle">60</text>
<line x1="609.75" y1="361.6" x2="609.75" y2="359" stroke="#8e8e8e" stroke-width="0.7"/>
<line x1="629.3" y1="361.6" x2="629.3" y2="359" stroke="#8e8e8e" stroke-width="0.7"/>
<text x="629.3" y="371.13" font-size="6.5" text-anchor="middle">80</text>
<line x1="648.85" y1="361.6" x2="648.85" y2="359" stroke="#8e8e8e" stroke-width="0.7"/>
<text x="561" y="382.23" font-size="6.5" text-anchor="middle">Time from image acquisition (min)</text>
<text transform="translate(446.6,284.5) rotate(-90)" x="0" y="2.33" font-size="6.5" text-anchor="middle">NucCDK sensor readout (C/N)</text>
<line x1="446.8" y1="330.7" x2="446.8" y2="338.9" stroke="#e41e2b" stroke-width="0.8"/>
<circle cx="446.8" cy="334.8" r="1.2" fill="#e41e2b"/>
<text transform="translate(674,285.8) rotate(-90)" x="0" y="2.33" font-size="6.5" text-anchor="middle">CytCDK sensor readout (N/C)</text>
<line x1="674.5" y1="332.3" x2="674.5" y2="340.5" stroke="#159a4b" stroke-width="0.8"/>
<circle cx="674.5" cy="336.4" r="1.2" fill="#72bb45"/>
<text x="481.4" y="204.23" font-size="6.5">Release from</text>
<text x="481.4" y="212.03" font-size="6.5">G2 Arrest</text>
<text x="495.9" y="219.53" font-size="6.5">Add 200 nM</text>
<text x="537.4" y="211.73" font-size="6.5">Release from</text>
<text x="537.4" y="219.53" font-size="6.5">200 nM arrest</text>
<line x1="496.1" y1="221.8" x2="496.1" y2="361.6" stroke="#3a3a3a" stroke-width="0.9" stroke-dasharray="13.8,13.7" stroke-dashoffset="7.7"/>
<line x1="514" y1="221.8" x2="514" y2="361.6" stroke="#3a3a3a" stroke-width="0.9" stroke-dasharray="13.8,13.7" stroke-dashoffset="7.7"/>
<line x1="537.1" y1="221.8" x2="537.1" y2="361.6" stroke="#3a3a3a" stroke-width="0.9" stroke-dasharray="13.8,13.7" stroke-dashoffset="7.7"/>
<polyline points="472.9,354.9 478.76,355.1 484.63,356.2 490.5,355.7 496.36,356.5 502.22,356.5 508.09,355.1 513.95,346.5 519.82,333.4 525.68,332 531.55,330.5 537.41,331.5 543.28,325.5 549.14,295.3 555.01,262 560.88,236.3 566.74,232.3 572.61,248.9 578.47,290.9 584.34,317.1 590.2,330.3 596.06,339.5 601.93,347.3 607.79,353.6 613.66,355.7 619.52,355 625.39,355.7 631.25,356.3 637.12,356 642.99,356.5" fill="none" stroke="#159a4b" stroke-width="1.4" stroke-linejoin="round"/>
<circle cx="472.9" cy="354.9" r="1.25" fill="#72bb45"/>
<circle cx="478.76" cy="355.1" r="1.25" fill="#72bb45"/>
<circle cx="484.63" cy="356.2" r="1.25" fill="#72bb45"/>
<circle cx="490.5" cy="355.7" r="1.25" fill="#72bb45"/>
<circle cx="496.36" cy="356.5" r="1.25" fill="#72bb45"/>
<circle cx="502.22" cy="356.5" r="1.25" fill="#72bb45"/>
<circle cx="508.09" cy="355.1" r="1.25" fill="#72bb45"/>
<circle cx="513.95" cy="346.5" r="1.25" fill="#72bb45"/>
<circle cx="519.82" cy="333.4" r="1.25" fill="#72bb45"/>
<circle cx="525.68" cy="332" r="1.25" fill="#72bb45"/>
<circle cx="531.55" cy="330.5" r="1.25" fill="#72bb45"/>
<circle cx="537.41" cy="331.5" r="1.25" fill="#72bb45"/>
<circle cx="543.28" cy="325.5" r="1.25" fill="#72bb45"/>
<circle cx="549.14" cy="295.3" r="1.25" fill="#72bb45"/>
<circle cx="555.01" cy="262" r="1.25" fill="#72bb45"/>
<circle cx="560.88" cy="236.3" r="1.25" fill="#72bb45"/>
<circle cx="566.74" cy="232.3" r="1.25" fill="#72bb45"/>
<circle cx="572.61" cy="248.9" r="1.25" fill="#72bb45"/>
<circle cx="578.47" cy="290.9" r="1.25" fill="#72bb45"/>
<circle cx="584.34" cy="317.1" r="1.25" fill="#72bb45"/>
<circle cx="590.2" cy="330.3" r="1.25" fill="#72bb45"/>
<circle cx="596.06" cy="339.5" r="1.25" fill="#72bb45"/>
<circle cx="601.93" cy="347.3" r="1.25" fill="#72bb45"/>
<circle cx="607.79" cy="353.6" r="1.25" fill="#72bb45"/>
<circle cx="613.66" cy="355.7" r="1.25" fill="#72bb45"/>
<circle cx="619.52" cy="355" r="1.25" fill="#72bb45"/>
<circle cx="625.39" cy="355.7" r="1.25" fill="#72bb45"/>
<circle cx="631.25" cy="356.3" r="1.25" fill="#72bb45"/>
<circle cx="637.12" cy="356" r="1.25" fill="#72bb45"/>
<circle cx="642.99" cy="356.5" r="1.25" fill="#72bb45"/>
<polyline points="472.9,322.3 478.76,320.8 484.63,313.7 490.5,314.5 496.36,316.3 502.22,286.1 508.09,272.2 513.95,254.1 519.82,271.4 525.68,286.1 531.55,295.3 537.41,307.1 543.28,265.1 549.14,249.4 555.01,236.2 560.88,228.9 566.74,248.1 572.61,292.7 578.47,332.1 584.34,353.1 590.2,353.9 596.06,353.6 601.93,332.1 607.79,296.7 613.66,301.9 619.52,310.3 625.39,318.5 631.25,321.6 637.12,322.4 642.99,323.7" fill="none" stroke="#e41e2b" stroke-width="1.2" stroke-linejoin="round"/>
<circle cx="472.9" cy="322.3" r="1.3" fill="#e41e2b"/>
<circle cx="478.76" cy="320.8" r="1.3" fill="#e41e2b"/>
<circle cx="484.63" cy="313.7" r="1.3" fill="#e41e2b"/>
<circle cx="490.5" cy="314.5" r="1.3" fill="#e41e2b"/>
<circle cx="496.36" cy="316.3" r="1.3" fill="#e41e2b"/>
<circle cx="502.22" cy="286.1" r="1.3" fill="#e41e2b"/>
<circle cx="508.09" cy="272.2" r="1.3" fill="#e41e2b"/>
<circle cx="513.95" cy="254.1" r="1.3" fill="#e41e2b"/>
<circle cx="519.82" cy="271.4" r="1.3" fill="#e41e2b"/>
<circle cx="525.68" cy="286.1" r="1.3" fill="#e41e2b"/>
<circle cx="531.55" cy="295.3" r="1.3" fill="#e41e2b"/>
<circle cx="537.41" cy="307.1" r="1.3" fill="#e41e2b"/>
<circle cx="543.28" cy="265.1" r="1.3" fill="#e41e2b"/>
<circle cx="549.14" cy="249.4" r="1.3" fill="#e41e2b"/>
<circle cx="555.01" cy="236.2" r="1.3" fill="#e41e2b"/>
<circle cx="560.88" cy="228.9" r="1.3" fill="#e41e2b"/>
<circle cx="566.74" cy="248.1" r="1.3" fill="#e41e2b"/>
<circle cx="572.61" cy="292.7" r="1.3" fill="#e41e2b"/>
<circle cx="578.47" cy="332.1" r="1.3" fill="#e41e2b"/>
<circle cx="584.34" cy="353.1" r="1.3" fill="#e41e2b"/>
<circle cx="590.2" cy="353.9" r="1.3" fill="#e41e2b"/>
<circle cx="596.06" cy="353.6" r="1.3" fill="#e41e2b"/>
<circle cx="601.93" cy="332.1" r="1.3" fill="#e41e2b"/>
<circle cx="607.79" cy="296.7" r="1.3" fill="#e41e2b"/>
<circle cx="613.66" cy="301.9" r="1.3" fill="#e41e2b"/>
<circle cx="619.52" cy="310.3" r="1.3" fill="#e41e2b"/>
<circle cx="625.39" cy="318.5" r="1.3" fill="#e41e2b"/>
<circle cx="631.25" cy="321.6" r="1.3" fill="#e41e2b"/>
<circle cx="637.12" cy="322.4" r="1.3" fill="#e41e2b"/>
<circle cx="642.99" cy="323.7" r="1.3" fill="#e41e2b"/>
<circle cx="496.36" cy="316.3" r="1.75" fill="#e41e2b" stroke="#231f20" stroke-width="1.1"/>
<circle cx="537.41" cy="307.1" r="1.75" fill="#e41e2b" stroke="#231f20" stroke-width="1.1"/>
<circle cx="508.09" cy="355.1" r="1.75" fill="#72bb45" stroke="#231f20" stroke-width="1.1"/>
<circle cx="537.41" cy="331.5" r="1.75" fill="#72bb45" stroke="#231f20" stroke-width="1.1"/>
<text x="474" y="349.53" font-size="6.5">~6 min delay</text>
<text x="538.7" y="338.63" font-size="6.5">&lt;3 min delay</text>
<line x1="499" y1="352.8" x2="505.5" y2="352.8" stroke="#231f20" stroke-width="0.6"/>
<path d="M497.2,352.8 L499.8,351.71 L499.8,353.89 Z" fill="#231f20"/>
<path d="M507.3,352.8 L504.7,351.71 L504.7,353.89 Z" fill="#231f20"/>
<line x1="496.8" y1="350" x2="496.8" y2="358" stroke="#231f20" stroke-width="0.7"/>
<text x="439.8" y="415.4" font-size="11" font-weight="bold">i</text>
<line x1="471.4" y1="427.4" x2="471.4" y2="565.4" stroke="#7f8a9a" stroke-width="0.8"/>
<line x1="647" y1="427.4" x2="647" y2="565.4" stroke="#8e8680" stroke-width="0.8"/>
<line x1="471.4" y1="565.4" x2="647" y2="565.4" stroke="#8e8e8e" stroke-width="0.8"/>
<line x1="471.4" y1="565.25" x2="474" y2="565.25" stroke="#7f8a9a" stroke-width="0.7"/>
<line x1="471.4" y1="542.3" x2="474" y2="542.3" stroke="#7f8a9a" stroke-width="0.7"/>
<text x="467.6" y="544.63" font-size="6.5" text-anchor="end">0.55</text>
<line x1="471.4" y1="519.35" x2="474" y2="519.35" stroke="#7f8a9a" stroke-width="0.7"/>
<line x1="471.4" y1="496.4" x2="474" y2="496.4" stroke="#7f8a9a" stroke-width="0.7"/>
<text x="467.6" y="498.73" font-size="6.5" text-anchor="end">0.65</text>
<line x1="471.4" y1="473.45" x2="474" y2="473.45" stroke="#7f8a9a" stroke-width="0.7"/>
<line x1="471.4" y1="450.5" x2="474" y2="450.5" stroke="#7f8a9a" stroke-width="0.7"/>
<text x="467.6" y="452.83" font-size="6.5" text-anchor="end">0.75</text>
<line x1="471.4" y1="427.55" x2="474" y2="427.55" stroke="#7f8a9a" stroke-width="0.7"/>
<line x1="644.4" y1="565.4" x2="647" y2="565.4" stroke="#8e8680" stroke-width="0.7"/>
<line x1="644.4" y1="537.8" x2="647" y2="537.8" stroke="#8e8680" stroke-width="0.7"/>
<text x="651" y="540.13" font-size="6.5">1.15</text>
<line x1="644.4" y1="510.2" x2="647" y2="510.2" stroke="#8e8680" stroke-width="0.7"/>
<line x1="644.4" y1="482.6" x2="647" y2="482.6" stroke="#8e8680" stroke-width="0.7"/>
<text x="651" y="484.93" font-size="6.5">1.25</text>
<line x1="644.4" y1="455" x2="647" y2="455" stroke="#8e8680" stroke-width="0.7"/>
<line x1="644.4" y1="427.4" x2="647" y2="427.4" stroke="#8e8680" stroke-width="0.7"/>
<text x="651" y="429.73" font-size="6.5">1.35</text>
<line x1="471.4" y1="565.4" x2="471.4" y2="562.8" stroke="#8e8e8e" stroke-width="0.7"/>
<text x="471.4" y="574.93" font-size="6.5" text-anchor="middle">0</text>
<line x1="490.95" y1="565.4" x2="490.95" y2="562.8" stroke="#8e8e8e" stroke-width="0.7"/>
<line x1="510.5" y1="565.4" x2="510.5" y2="562.8" stroke="#8e8e8e" stroke-width="0.7"/>
<text x="510.5" y="574.93" font-size="6.5" text-anchor="middle">20</text>
<line x1="530.05" y1="565.4" x2="530.05" y2="562.8" stroke="#8e8e8e" stroke-width="0.7"/>
<line x1="549.6" y1="565.4" x2="549.6" y2="562.8" stroke="#8e8e8e" stroke-width="0.7"/>
<text x="549.6" y="574.93" font-size="6.5" text-anchor="middle">40</text>
<line x1="569.15" y1="565.4" x2="569.15" y2="562.8" stroke="#8e8e8e" stroke-width="0.7"/>
<line x1="588.7" y1="565.4" x2="588.7" y2="562.8" stroke="#8e8e8e" stroke-width="0.7"/>
<text x="588.7" y="574.93" font-size="6.5" text-anchor="middle">60</text>
<line x1="608.25" y1="565.4" x2="608.25" y2="562.8" stroke="#8e8e8e" stroke-width="0.7"/>
<line x1="627.8" y1="565.4" x2="627.8" y2="562.8" stroke="#8e8e8e" stroke-width="0.7"/>
<text x="627.8" y="574.93" font-size="6.5" text-anchor="middle">80</text>
<line x1="647.35" y1="565.4" x2="647.35" y2="562.8" stroke="#8e8e8e" stroke-width="0.7"/>
<text x="558.8" y="587.13" font-size="6.5" text-anchor="middle">Time from image acquisition (minutes)</text>
<text x="559.7" y="600.03" font-size="6.5" text-anchor="middle">Mean <tspan font-style="italic">T</tspan><tspan font-size="4" dy="1.5">delay</tspan><tspan dy="-1.5"> in rise between NucCDK and CytCDK after G2 release</tspan></text>
<text x="559.7" y="607.53" font-size="6.5" text-anchor="middle">= 12.70 min (4.43)</text>
<text transform="translate(445,489.8) rotate(-90)" x="0" y="2.33" font-size="6.5" text-anchor="middle">NucCDK sensor readout (C/N)</text>
<line x1="445.2" y1="536.7" x2="445.2" y2="544.9" stroke="#e41e2b" stroke-width="0.8"/>
<circle cx="445.2" cy="540.8" r="1.2" fill="#e41e2b"/>
<text transform="translate(672,490.6) rotate(-90)" x="0" y="2.33" font-size="6.5" text-anchor="middle">CytCDK sensor readout (N/C)</text>
<line x1="672.2" y1="537.3" x2="672.2" y2="545.5" stroke="#159a4b" stroke-width="0.8"/>
<circle cx="672.2" cy="541.4" r="1.2" fill="#72bb45"/>
<text x="494.4" y="417.53" font-size="6.5" text-anchor="middle">Release</text>
<text x="494.4" y="425.13" font-size="6.5" text-anchor="middle">from G2</text>
<line x1="494.6" y1="426.8" x2="494.6" y2="565.4" stroke="#555" stroke-width="1.0" stroke-dasharray="14.7,13.3" stroke-dashoffset="7.6"/>
<text x="560.9" y="425.13" font-size="6.5" text-anchor="middle">Cdc13–Cdc2AFAs</text>
<line x1="558.6" y1="436" x2="558.6" y2="488.5" stroke="#231f20" stroke-width="0.9" stroke-dasharray="4,2.6"/>
<line x1="565.4" y1="436" x2="565.4" y2="488.5" stroke="#231f20" stroke-width="0.9" stroke-dasharray="4,2.6"/>
<line x1="572.5" y1="436.7" x2="593.2" y2="436.7" stroke="#231f20" stroke-width="0.8"/>
<path d="M570,436.7 L573.2,435.36 L573.2,438.04 Z" fill="#231f20"/>
<text x="595.6" y="439.33" font-size="6.5">~3 minute delay</text>
<polyline points="471.4,546.8 477.26,548.1 483.13,549.3 489,550.5 494.86,550.5 500.72,551.3 506.59,550.5 512.45,550 518.32,551 524.18,550.5 530.05,545.6 535.91,533.8 541.78,514.3 547.64,486.5 553.51,456.5 559.38,439.7 565.24,435.3 571.11,461.4 576.97,507.4 582.84,534.5 588.7,542.6 594.56,545.6 600.43,549.2 606.29,546 612.16,551.7 618.02,551 623.89,549.2 629.75,550 635.62,550.5 641.49,551.2" fill="none" stroke="#159a4b" stroke-width="1.4" stroke-linejoin="round"/>
<circle cx="471.4" cy="546.8" r="1.25" fill="#72bb45"/>
<circle cx="477.26" cy="548.1" r="1.25" fill="#72bb45"/>
<circle cx="483.13" cy="549.3" r="1.25" fill="#72bb45"/>
<circle cx="489" cy="550.5" r="1.25" fill="#72bb45"/>
<circle cx="494.86" cy="550.5" r="1.25" fill="#72bb45"/>
<circle cx="500.72" cy="551.3" r="1.25" fill="#72bb45"/>
<circle cx="506.59" cy="550.5" r="1.25" fill="#72bb45"/>
<circle cx="512.45" cy="550" r="1.25" fill="#72bb45"/>
<circle cx="518.32" cy="551" r="1.25" fill="#72bb45"/>
<circle cx="524.18" cy="550.5" r="1.25" fill="#72bb45"/>
<circle cx="530.05" cy="545.6" r="1.25" fill="#72bb45"/>
<circle cx="535.91" cy="533.8" r="1.25" fill="#72bb45"/>
<circle cx="541.78" cy="514.3" r="1.25" fill="#72bb45"/>
<circle cx="547.64" cy="486.5" r="1.25" fill="#72bb45"/>
<circle cx="553.51" cy="456.5" r="1.25" fill="#72bb45"/>
<circle cx="559.38" cy="439.7" r="1.25" fill="#72bb45"/>
<circle cx="565.24" cy="435.3" r="1.25" fill="#72bb45"/>
<circle cx="571.11" cy="461.4" r="1.25" fill="#72bb45"/>
<circle cx="576.97" cy="507.4" r="1.25" fill="#72bb45"/>
<circle cx="582.84" cy="534.5" r="1.25" fill="#72bb45"/>
<circle cx="588.7" cy="542.6" r="1.25" fill="#72bb45"/>
<circle cx="594.56" cy="545.6" r="1.25" fill="#72bb45"/>
<circle cx="600.43" cy="549.2" r="1.25" fill="#72bb45"/>
<circle cx="606.29" cy="546" r="1.25" fill="#72bb45"/>
<circle cx="612.16" cy="551.7" r="1.25" fill="#72bb45"/>
<circle cx="618.02" cy="551" r="1.25" fill="#72bb45"/>
<circle cx="623.89" cy="549.2" r="1.25" fill="#72bb45"/>
<circle cx="629.75" cy="550" r="1.25" fill="#72bb45"/>
<circle cx="635.62" cy="550.5" r="1.25" fill="#72bb45"/>
<circle cx="641.49" cy="551.2" r="1.25" fill="#72bb45"/>
<polyline points="471.4,552.5 477.26,549.3 483.13,556.2 489,562.1 494.86,558.4 500.72,531.3 506.59,512.4 512.45,504.5 518.32,504.5 524.18,487.7 530.05,463.3 535.91,464.3 541.78,457.4 547.64,450 553.51,436.7 559.38,438.5 565.24,464.3 571.11,481.1 576.97,503.7 582.84,520.4 588.7,534.5 594.56,542.6 600.43,551 606.29,554.2 612.16,558.6 618.02,552.4 623.89,553.4 629.75,541.9 635.62,539.4 641.49,536.4" fill="none" stroke="#e41e2b" stroke-width="1.2" stroke-linejoin="round"/>
<circle cx="471.4" cy="552.5" r="1.3" fill="#e41e2b"/>
<circle cx="477.26" cy="549.3" r="1.3" fill="#e41e2b"/>
<circle cx="483.13" cy="556.2" r="1.3" fill="#e41e2b"/>
<circle cx="489" cy="562.1" r="1.3" fill="#e41e2b"/>
<circle cx="494.86" cy="558.4" r="1.3" fill="#e41e2b"/>
<circle cx="500.72" cy="531.3" r="1.3" fill="#e41e2b"/>
<circle cx="506.59" cy="512.4" r="1.3" fill="#e41e2b"/>
<circle cx="512.45" cy="504.5" r="1.3" fill="#e41e2b"/>
<circle cx="518.32" cy="504.5" r="1.3" fill="#e41e2b"/>
<circle cx="524.18" cy="487.7" r="1.3" fill="#e41e2b"/>
<circle cx="530.05" cy="463.3" r="1.3" fill="#e41e2b"/>
<circle cx="535.91" cy="464.3" r="1.3" fill="#e41e2b"/>
<circle cx="541.78" cy="457.4" r="1.3" fill="#e41e2b"/>
<circle cx="547.64" cy="450" r="1.3" fill="#e41e2b"/>
<circle cx="553.51" cy="436.7" r="1.3" fill="#e41e2b"/>
<circle cx="559.38" cy="438.5" r="1.3" fill="#e41e2b"/>
<circle cx="565.24" cy="464.3" r="1.3" fill="#e41e2b"/>
<circle cx="571.11" cy="481.1" r="1.3" fill="#e41e2b"/>
<circle cx="576.97" cy="503.7" r="1.3" fill="#e41e2b"/>
<circle cx="582.84" cy="520.4" r="1.3" fill="#e41e2b"/>
<circle cx="588.7" cy="534.5" r="1.3" fill="#e41e2b"/>
<circle cx="594.56" cy="542.6" r="1.3" fill="#e41e2b"/>
<circle cx="600.43" cy="551" r="1.3" fill="#e41e2b"/>
<circle cx="606.29" cy="554.2" r="1.3" fill="#e41e2b"/>
<circle cx="612.16" cy="558.6" r="1.3" fill="#e41e2b"/>
<circle cx="618.02" cy="552.4" r="1.3" fill="#e41e2b"/>
<circle cx="623.89" cy="553.4" r="1.3" fill="#e41e2b"/>
<circle cx="629.75" cy="541.9" r="1.3" fill="#e41e2b"/>
<circle cx="635.62" cy="539.4" r="1.3" fill="#e41e2b"/>
<circle cx="641.49" cy="536.4" r="1.3" fill="#e41e2b"/>
<circle cx="494.86" cy="558.4" r="1.75" fill="#e41e2b" stroke="#231f20" stroke-width="1.1"/>
<circle cx="524.18" cy="550.5" r="1.75" fill="#72bb45" stroke="#231f20" stroke-width="1.1"/>
<line x1="496.5" y1="562.4" x2="523.5" y2="562.4" stroke="#231f20" stroke-width="0.6"/>
<path d="M495.4,562.4 L497.8,561.39 L497.8,563.41 Z" fill="#231f20"/>
<path d="M525.2,562.4 L522.8,561.39 L522.8,563.41 Z" fill="#231f20"/>
<text x="503.9" y="557.98" font-size="7.2">T<tspan font-size="4" dy="1.8">delay</tspan></text>
<text x="0" y="415.3" font-size="11" font-weight="bold">g</text>
<line x1="26.8" y1="422.5" x2="26.8" y2="577.4" stroke="#7a7f86" stroke-width="0.8"/>
<line x1="222.8" y1="422.5" x2="222.8" y2="577.4" stroke="#8c8480" stroke-width="0.8"/>
<line x1="26.8" y1="577.4" x2="222.8" y2="577.4" stroke="#8c8c8c" stroke-width="0.8"/>
<line x1="26.8" y1="577.3" x2="29.4" y2="577.3" stroke="#7a7f86" stroke-width="0.7"/>
<line x1="26.8" y1="551.5" x2="29.4" y2="551.5" stroke="#7a7f86" stroke-width="0.7"/>
<text x="22.8" y="553.83" font-size="6.5" text-anchor="end">9</text>
<line x1="26.8" y1="525.7" x2="29.4" y2="525.7" stroke="#7a7f86" stroke-width="0.7"/>
<line x1="26.8" y1="499.9" x2="29.4" y2="499.9" stroke="#7a7f86" stroke-width="0.7"/>
<text x="22.8" y="502.23" font-size="6.5" text-anchor="end">11</text>
<line x1="26.8" y1="474.1" x2="29.4" y2="474.1" stroke="#7a7f86" stroke-width="0.7"/>
<line x1="26.8" y1="448.3" x2="29.4" y2="448.3" stroke="#7a7f86" stroke-width="0.7"/>
<text x="22.8" y="450.63" font-size="6.5" text-anchor="end">13</text>
<line x1="26.8" y1="422.5" x2="29.4" y2="422.5" stroke="#7a7f86" stroke-width="0.7"/>
<line x1="220.2" y1="577.4" x2="222.8" y2="577.4" stroke="#8c8480" stroke-width="0.7"/>
<text x="227.5" y="579.73" font-size="6.5">0</text>
<line x1="220.2" y1="561.91" x2="222.8" y2="561.91" stroke="#8c8480" stroke-width="0.7"/>
<line x1="220.2" y1="546.42" x2="222.8" y2="546.42" stroke="#8c8480" stroke-width="0.7"/>
<text x="227.5" y="548.75" font-size="6.5">0.2</text>
<line x1="220.2" y1="530.93" x2="222.8" y2="530.93" stroke="#8c8480" stroke-width="0.7"/>
<line x1="220.2" y1="515.44" x2="222.8" y2="515.44" stroke="#8c8480" stroke-width="0.7"/>
<text x="227.5" y="517.77" font-size="6.5">0.4</text>
<line x1="220.2" y1="499.95" x2="222.8" y2="499.95" stroke="#8c8480" stroke-width="0.7"/>
<line x1="220.2" y1="484.46" x2="222.8" y2="484.46" stroke="#8c8480" stroke-width="0.7"/>
<text x="227.5" y="486.79" font-size="6.5">0.6</text>
<line x1="220.2" y1="468.97" x2="222.8" y2="468.97" stroke="#8c8480" stroke-width="0.7"/>
<line x1="220.2" y1="453.48" x2="222.8" y2="453.48" stroke="#8c8480" stroke-width="0.7"/>
<text x="227.5" y="455.81" font-size="6.5">0.8</text>
<line x1="220.2" y1="437.99" x2="222.8" y2="437.99" stroke="#8c8480" stroke-width="0.7"/>
<line x1="220.2" y1="422.5" x2="222.8" y2="422.5" stroke="#8c8480" stroke-width="0.7"/>
<text x="227.5" y="424.83" font-size="6.5">1.0</text>
<line x1="26.8" y1="577.4" x2="26.8" y2="574.8" stroke="#8c8c8c" stroke-width="0.7"/>
<text x="26.8" y="586.53" font-size="6.5" text-anchor="middle">0</text>
<line x1="46.4" y1="577.4" x2="46.4" y2="574.8" stroke="#8c8c8c" stroke-width="0.7"/>
<line x1="66" y1="577.4" x2="66" y2="574.8" stroke="#8c8c8c" stroke-width="0.7"/>
<text x="66" y="586.53" font-size="6.5" text-anchor="middle">0.2</text>
<line x1="85.6" y1="577.4" x2="85.6" y2="574.8" stroke="#8c8c8c" stroke-width="0.7"/>
<line x1="105.2" y1="577.4" x2="105.2" y2="574.8" stroke="#8c8c8c" stroke-width="0.7"/>
<text x="105.2" y="586.53" font-size="6.5" text-anchor="middle">0.4</text>
<line x1="124.8" y1="577.4" x2="124.8" y2="574.8" stroke="#8c8c8c" stroke-width="0.7"/>
<line x1="144.4" y1="577.4" x2="144.4" y2="574.8" stroke="#8c8c8c" stroke-width="0.7"/>
<text x="144.4" y="586.53" font-size="6.5" text-anchor="middle">0.6</text>
<line x1="164" y1="577.4" x2="164" y2="574.8" stroke="#8c8c8c" stroke-width="0.7"/>
<line x1="183.6" y1="577.4" x2="183.6" y2="574.8" stroke="#8c8c8c" stroke-width="0.7"/>
<text x="183.6" y="586.53" font-size="6.5" text-anchor="middle">0.8</text>
<line x1="203.2" y1="577.4" x2="203.2" y2="574.8" stroke="#8c8c8c" stroke-width="0.7"/>
<line x1="222.8" y1="577.4" x2="222.8" y2="574.8" stroke="#8c8c8c" stroke-width="0.7"/>
<text x="222.8" y="586.53" font-size="6.5" text-anchor="middle">1</text>
<text x="124.8" y="597.83" font-size="6.5" text-anchor="middle">Cell cycle time (normalized)</text>
<text transform="translate(5,494.5) rotate(-90)" x="0" y="2.33" font-size="6.5" text-anchor="middle">Cell length (µm)</text>
<line x1="5.3" y1="519.9" x2="5.3" y2="528.4" stroke="#2b3188" stroke-width="0.8"/>
<circle cx="5.3" cy="524.2" r="1.3" fill="#2b3188"/>
<text transform="translate(244.9,499.6) rotate(-90)" x="0" y="2.33" font-size="6.5" text-anchor="middle">Normalized sensor readout</text>
<text x="80.1" y="443.13" font-size="6.5" text-anchor="end">NucCDK</text>
<text x="80.1" y="453.23" font-size="6.5" text-anchor="end">CytCDK V2</text>
<line x1="84.5" y1="440.8" x2="103.8" y2="440.8" stroke="#e41e2b" stroke-width="1.0"/>
<line x1="84.5" y1="450.9" x2="103.8" y2="450.9" stroke="#159a4b" stroke-width="1.0"/>
<line x1="134.5" y1="524.3" x2="134.5" y2="577.4" stroke="#333" stroke-width="1.0" stroke-dasharray="4.6,3.4"/>
<line x1="140.7" y1="524.3" x2="140.7" y2="577.4" stroke="#333" stroke-width="1.0" stroke-dasharray="4.6,3.4"/>
<polyline points="26.8,565.8 33.12,563 39.45,558.3 45.77,555.2 52.09,550.5 58.41,545.6 64.74,540.3 71.06,536.1 77.38,527.4 83.7,521.5 90.03,514.5 96.35,508.2 102.67,497.4 108.99,493.6 115.32,487.7 121.64,482.3 127.96,475.2 134.28,469.3 140.61,459 146.93,452.9 153.25,445.8 159.57,439.2 165.9,430.4 172.22,428.4 178.54,425.7 184.86,427 191.19,427.2 197.51,425.7 203.83,428 210.15,426.6 216.48,426.3 222.8,423.7" fill="none" stroke="#2b3188" stroke-width="1.05" stroke-linejoin="round"/>
<circle cx="26.8" cy="565.8" r="1.45" fill="#2358b4"/>
<circle cx="33.12" cy="563" r="1.45" fill="#2358b4"/>
<circle cx="39.45" cy="558.3" r="1.45" fill="#2358b4"/>
<circle cx="45.77" cy="555.2" r="1.45" fill="#2358b4"/>
<circle cx="52.09" cy="550.5" r="1.45" fill="#2358b4"/>
<circle cx="58.41" cy="545.6" r="1.45" fill="#2358b4"/>
<circle cx="64.74" cy="540.3" r="1.45" fill="#2358b4"/>
<circle cx="71.06" cy="536.1" r="1.45" fill="#2358b4"/>
<circle cx="77.38" cy="527.4" r="1.45" fill="#2358b4"/>
<circle cx="83.7" cy="521.5" r="1.45" fill="#2358b4"/>
<circle cx="90.03" cy="514.5" r="1.45" fill="#2358b4"/>
<circle cx="96.35" cy="508.2" r="1.45" fill="#2358b4"/>
<circle cx="102.67" cy="497.4" r="1.45" fill="#2358b4"/>
<circle cx="108.99" cy="493.6" r="1.45" fill="#2358b4"/>
<circle cx="115.32" cy="487.7" r="1.45" fill="#2358b4"/>
<circle cx="121.64" cy="482.3" r="1.45" fill="#2358b4"/>
<circle cx="127.96" cy="475.2" r="1.45" fill="#2358b4"/>
<circle cx="134.28" cy="469.3" r="1.45" fill="#2358b4"/>
<circle cx="140.61" cy="459" r="1.45" fill="#2358b4"/>
<circle cx="146.93" cy="452.9" r="1.45" fill="#2358b4"/>
<circle cx="153.25" cy="445.8" r="1.45" fill="#2358b4"/>
<circle cx="159.57" cy="439.2" r="1.45" fill="#2358b4"/>
<circle cx="165.9" cy="430.4" r="1.45" fill="#2358b4"/>
<circle cx="172.22" cy="428.4" r="1.45" fill="#2358b4"/>
<circle cx="178.54" cy="425.7" r="1.45" fill="#2358b4"/>
<circle cx="184.86" cy="427" r="1.45" fill="#2358b4"/>
<circle cx="191.19" cy="427.2" r="1.45" fill="#2358b4"/>
<circle cx="197.51" cy="425.7" r="1.45" fill="#2358b4"/>
<circle cx="203.83" cy="428" r="1.45" fill="#2358b4"/>
<circle cx="210.15" cy="426.6" r="1.45" fill="#2358b4"/>
<circle cx="216.48" cy="426.3" r="1.45" fill="#2358b4"/>
<circle cx="222.8" cy="423.7" r="1.45" fill="#2358b4"/>
<polyline points="26.8,577 33.12,573.2 39.45,572.5 45.77,570.4 52.09,566.4 58.41,553.7 64.74,545.2 71.06,543.9 77.38,549.2 83.7,542.7 90.03,540.1 96.35,536.1 102.67,537.6 108.99,530.2 115.32,533.3 121.64,530.9 127.96,531.9 134.28,525.2 140.61,509.3 146.93,484.6 153.25,433.1 159.57,423.3 165.9,500.6 172.22,542.5 178.54,528 184.86,514.1 191.19,539 197.51,538.4 203.83,539.7 210.15,544.6 216.48,550.9 222.8,549.3" fill="none" stroke="#e41e2b" stroke-width="1.2" stroke-linejoin="round"/>
<circle cx="26.8" cy="577" r="1.3" fill="#e41e2b"/>
<circle cx="33.12" cy="573.2" r="1.3" fill="#e41e2b"/>
<circle cx="39.45" cy="572.5" r="1.3" fill="#e41e2b"/>
<circle cx="45.77" cy="570.4" r="1.3" fill="#e41e2b"/>
<circle cx="52.09" cy="566.4" r="1.3" fill="#e41e2b"/>
<circle cx="58.41" cy="553.7" r="1.3" fill="#e41e2b"/>
<circle cx="64.74" cy="545.2" r="1.3" fill="#e41e2b"/>
<circle cx="71.06" cy="543.9" r="1.3" fill="#e41e2b"/>
<circle cx="77.38" cy="549.2" r="1.3" fill="#e41e2b"/>
<circle cx="83.7" cy="542.7" r="1.3" fill="#e41e2b"/>
<circle cx="90.03" cy="540.1" r="1.3" fill="#e41e2b"/>
<circle cx="96.35" cy="536.1" r="1.3" fill="#e41e2b"/>
<circle cx="102.67" cy="537.6" r="1.3" fill="#e41e2b"/>
<circle cx="108.99" cy="530.2" r="1.3" fill="#e41e2b"/>
<circle cx="115.32" cy="533.3" r="1.3" fill="#e41e2b"/>
<circle cx="121.64" cy="530.9" r="1.3" fill="#e41e2b"/>
<circle cx="127.96" cy="531.9" r="1.3" fill="#e41e2b"/>
<circle cx="134.28" cy="525.2" r="1.3" fill="#e41e2b"/>
<circle cx="140.61" cy="509.3" r="1.3" fill="#e41e2b"/>
<circle cx="146.93" cy="484.6" r="1.3" fill="#e41e2b"/>
<circle cx="153.25" cy="433.1" r="1.3" fill="#e41e2b"/>
<circle cx="159.57" cy="423.3" r="1.3" fill="#e41e2b"/>
<circle cx="165.9" cy="500.6" r="1.3" fill="#e41e2b"/>
<circle cx="172.22" cy="542.5" r="1.3" fill="#e41e2b"/>
<circle cx="178.54" cy="528" r="1.3" fill="#e41e2b"/>
<circle cx="184.86" cy="514.1" r="1.3" fill="#e41e2b"/>
<circle cx="191.19" cy="539" r="1.3" fill="#e41e2b"/>
<circle cx="197.51" cy="538.4" r="1.3" fill="#e41e2b"/>
<circle cx="203.83" cy="539.7" r="1.3" fill="#e41e2b"/>
<circle cx="210.15" cy="544.6" r="1.3" fill="#e41e2b"/>
<circle cx="216.48" cy="550.9" r="1.3" fill="#e41e2b"/>
<circle cx="222.8" cy="549.3" r="1.3" fill="#e41e2b"/>
<polyline points="26.8,563.2 33.12,567.9 39.45,570 45.77,568.3 52.09,566.4 58.41,577.4 64.74,574.2 71.06,572.7 77.38,567.9 83.7,572.5 90.03,563 96.35,567.2 102.67,564.3 108.99,564.7 115.32,561.5 121.64,561.7 127.96,558.8 134.28,557 140.61,554 146.93,535.4 153.25,471.3 159.57,423.3 165.9,436.6 172.22,504.5 178.54,522.7 184.86,536 191.19,543.1 197.51,550.3 203.83,559.5 210.15,561.5 216.48,565.2 222.8,569.7" fill="none" stroke="#159a4b" stroke-width="1.4" stroke-linejoin="round"/>
<circle cx="26.8" cy="563.2" r="1.25" fill="#72bb45"/>
<circle cx="33.12" cy="567.9" r="1.25" fill="#72bb45"/>
<circle cx="39.45" cy="570" r="1.25" fill="#72bb45"/>
<circle cx="45.77" cy="568.3" r="1.25" fill="#72bb45"/>
<circle cx="52.09" cy="566.4" r="1.25" fill="#72bb45"/>
<circle cx="58.41" cy="577.4" r="1.25" fill="#72bb45"/>
<circle cx="64.74" cy="574.2" r="1.25" fill="#72bb45"/>
<circle cx="71.06" cy="572.7" r="1.25" fill="#72bb45"/>
<circle cx="77.38" cy="567.9" r="1.25" fill="#72bb45"/>
<circle cx="83.7" cy="572.5" r="1.25" fill="#72bb45"/>
<circle cx="90.03" cy="563" r="1.25" fill="#72bb45"/>
<circle cx="96.35" cy="567.2" r="1.25" fill="#72bb45"/>
<circle cx="102.67" cy="564.3" r="1.25" fill="#72bb45"/>
<circle cx="108.99" cy="564.7" r="1.25" fill="#72bb45"/>
<circle cx="115.32" cy="561.5" r="1.25" fill="#72bb45"/>
<circle cx="121.64" cy="561.7" r="1.25" fill="#72bb45"/>
<circle cx="127.96" cy="558.8" r="1.25" fill="#72bb45"/>
<circle cx="134.28" cy="557" r="1.25" fill="#72bb45"/>
<circle cx="140.61" cy="554" r="1.25" fill="#72bb45"/>
<circle cx="146.93" cy="535.4" r="1.25" fill="#72bb45"/>
<circle cx="153.25" cy="471.3" r="1.25" fill="#72bb45"/>
<circle cx="159.57" cy="423.3" r="1.25" fill="#72bb45"/>
<circle cx="165.9" cy="436.6" r="1.25" fill="#72bb45"/>
<circle cx="172.22" cy="504.5" r="1.25" fill="#72bb45"/>
<circle cx="178.54" cy="522.7" r="1.25" fill="#72bb45"/>
<circle cx="184.86" cy="536" r="1.25" fill="#72bb45"/>
<circle cx="191.19" cy="543.1" r="1.25" fill="#72bb45"/>
<circle cx="197.51" cy="550.3" r="1.25" fill="#72bb45"/>
<circle cx="203.83" cy="559.5" r="1.25" fill="#72bb45"/>
<circle cx="210.15" cy="561.5" r="1.25" fill="#72bb45"/>
<circle cx="216.48" cy="565.2" r="1.25" fill="#72bb45"/>
<circle cx="222.8" cy="569.7" r="1.25" fill="#72bb45"/>
<circle cx="216.48" cy="565.2" r="0.9" fill="#231f20"/>
<circle cx="134.28" cy="525.2" r="1.75" fill="#e41e2b" stroke="#231f20" stroke-width="1.1"/>
<circle cx="140.61" cy="554" r="1.75" fill="#72bb45" stroke="#231f20" stroke-width="1.1"/>
<text x="115.8" y="516.73" font-size="6.5" text-anchor="middle">Nuclear</text>
<text x="115.8" y="524.23" font-size="6.5" text-anchor="middle">activation</text>
<text x="164" y="557.73" font-size="6.5" text-anchor="middle">Cytoplasmic</text>
<text x="164" y="565.33" font-size="6.5" text-anchor="middle">activation</text>
</svg></body></html>
